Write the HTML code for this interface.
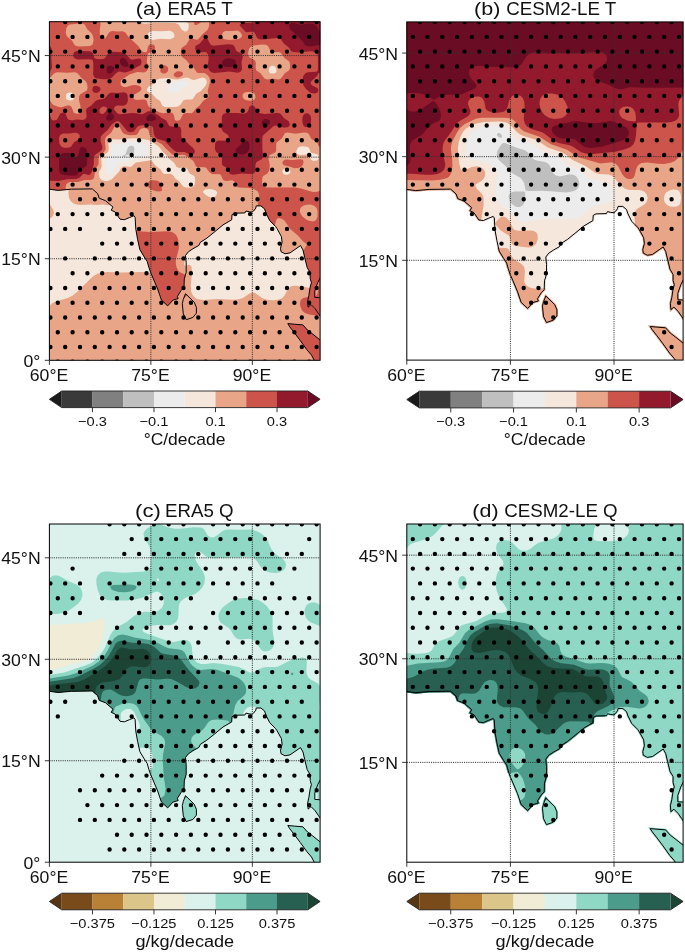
<!DOCTYPE html><html><head><meta charset="utf-8"><style>html,body{margin:0;padding:0;background:#fff;overflow:hidden;}svg{display:block;}text{font-family:"Liberation Sans",sans-serif;fill:#111;filter:grayscale(1);}</style></head><body>
<svg width="685" height="952" viewBox="0 0 685 952">
<rect width="685" height="952" fill="#fff"/>
<defs>
<clipPath id="fa"><rect x="49.40" y="21.70" width="270.70" height="338.60"/></clipPath>
<clipPath id="la"><path d="M42.6 189.2L49.4 189.2L58.1 190.4L71.3 189.2L92.3 188.9L97.6 193.6L99.3 198.3L105.4 200.6L113.0 207.1L111.2 210.2L115.1 212.0L120.0 219.2L124.4 219.7L129.6 217.5L134.0 215.7L135.1 217.3L135.8 229.1L137.6 239.4L139.9 249.7L144.3 257.0L147.2 261.4L148.8 267.2L150.5 272.2L153.4 278.9L157.7 289.1L161.4 300.0L167.7 305.9L173.1 300.0L178.2 298.6L177.4 296.4L181.1 290.5L184.0 287.6L184.3 278.9L186.2 272.3L186.2 262.8L185.5 255.5L188.4 251.8L193.0 248.7L198.9 245.4L200.3 242.4L206.9 238.1L214.2 232.2L223.0 224.9L231.7 219.8L232.0 214.7L234.6 213.2L244.9 212.9L246.0 211.0L249.2 211.8L252.2 212.1L253.6 211.0L255.8 208.1L256.2 205.9L260.9 205.9L264.6 208.9L266.0 213.2L269.7 220.5L275.5 226.4L277.0 228.6L281.4 236.6L282.1 242.4L280.5 248.2L281.0 251.7L285.0 253.8L290.0 252.9L300.5 245.6L303.0 250.0L304.7 257.5L307.2 267.6L310.2 272.7L310.2 278.5L311.4 282.7L310.2 286.9L308.9 295.3L307.6 301.2L308.1 307.1L311.0 304.6L315.2 308.8L318.6 313.8L320.6 316.7L326.8 316.7L326.8 298.7L320.6 298.7L319.4 297.7L314.8 297.4L314.8 291.1L317.7 282.7L320.6 277.2L326.8 277.2L326.8 14.9L42.6 14.9ZM185.5 293.7L183.3 299.3L182.3 303.7L183.3 313.9L186.2 319.7L192.8 317.5L196.4 313.2L196.4 307.3L194.2 302.2L185.5 293.7ZM326.8 340.4L320.6 340.4L312.8 334.1L307.5 330.1L302.9 324.9L294.4 324.2L287.8 323.6L289.8 326.9L294.4 332.8L300.3 340.6L306.9 349.8L311.5 355.1L314.5 360.8L314.5 367.1L326.8 367.1Z"/></clipPath>
<clipPath id="sa"><path clip-rule="evenodd" d="M44.4 16.7H325.1V365.3H44.4ZM42.6 189.2L49.4 189.2L58.1 190.4L71.3 189.2L92.3 188.9L97.6 193.6L99.3 198.3L105.4 200.6L113.0 207.1L111.2 210.2L115.1 212.0L120.0 219.2L124.4 219.7L129.6 217.5L134.0 215.7L135.1 217.3L135.8 229.1L137.6 239.4L139.9 249.7L144.3 257.0L147.2 261.4L148.8 267.2L150.5 272.2L153.4 278.9L157.7 289.1L161.4 300.0L167.7 305.9L173.1 300.0L178.2 298.6L177.4 296.4L181.1 290.5L184.0 287.6L184.3 278.9L186.2 272.3L186.2 262.8L185.5 255.5L188.4 251.8L193.0 248.7L198.9 245.4L200.3 242.4L206.9 238.1L214.2 232.2L223.0 224.9L231.7 219.8L232.0 214.7L234.6 213.2L244.9 212.9L246.0 211.0L249.2 211.8L252.2 212.1L253.6 211.0L255.8 208.1L256.2 205.9L260.9 205.9L264.6 208.9L266.0 213.2L269.7 220.5L275.5 226.4L277.0 228.6L281.4 236.6L282.1 242.4L280.5 248.2L281.0 251.7L285.0 253.8L290.0 252.9L300.5 245.6L303.0 250.0L304.7 257.5L307.2 267.6L310.2 272.7L310.2 278.5L311.4 282.7L310.2 286.9L308.9 295.3L307.6 301.2L308.1 307.1L311.0 304.6L315.2 308.8L318.6 313.8L320.6 316.7L326.8 316.7L326.8 298.7L320.6 298.7L319.4 297.7L314.8 297.4L314.8 291.1L317.7 282.7L320.6 277.2L326.8 277.2L326.8 14.9L42.6 14.9ZM185.5 293.7L183.3 299.3L182.3 303.7L183.3 313.9L186.2 319.7L192.8 317.5L196.4 313.2L196.4 307.3L194.2 302.2L185.5 293.7ZM326.8 340.4L320.6 340.4L312.8 334.1L307.5 330.1L302.9 324.9L294.4 324.2L287.8 323.6L289.8 326.9L294.4 332.8L300.3 340.6L306.9 349.8L311.5 355.1L314.5 360.8L314.5 367.1L326.8 367.1Z"/></clipPath>
<clipPath id="fc"><rect x="49.40" y="524.00" width="270.70" height="338.20"/></clipPath>
<clipPath id="lc"><path d="M42.6 691.3L49.4 691.3L58.1 692.5L71.3 691.3L92.3 691.0L97.6 695.7L99.3 700.4L105.4 702.7L113.0 709.2L111.2 712.3L115.1 714.1L120.0 721.3L124.4 721.8L129.6 719.6L134.0 717.8L135.1 719.4L135.8 731.2L137.6 741.4L139.9 751.7L144.3 759.0L147.2 763.4L148.8 769.2L150.5 774.2L153.4 780.9L157.7 791.1L161.4 802.0L167.7 807.9L173.1 802.0L178.2 800.6L177.4 798.4L181.1 792.5L184.0 789.6L184.3 780.9L186.2 774.3L186.2 764.8L185.5 757.5L188.4 753.8L193.0 750.7L198.9 747.4L200.3 744.4L206.9 740.1L214.2 734.3L223.0 727.0L231.7 721.9L232.0 716.8L234.6 715.3L244.9 715.0L246.0 713.1L249.2 713.9L252.2 714.2L253.6 713.1L255.8 710.2L256.2 708.0L260.9 708.0L264.6 711.0L266.0 715.3L269.7 722.6L275.5 728.5L277.0 730.7L281.4 738.6L282.1 744.4L280.5 750.2L281.0 753.7L285.0 755.8L290.0 754.9L300.5 747.6L303.0 752.0L304.7 759.5L307.2 769.6L310.2 774.7L310.2 780.5L311.4 784.7L310.2 788.9L308.9 797.3L307.6 803.2L308.1 809.1L311.0 806.6L315.2 810.8L318.6 815.8L320.6 818.7L326.8 818.7L326.8 800.7L320.6 800.7L319.4 799.7L314.8 799.4L314.8 793.1L317.7 784.7L320.6 779.2L326.8 779.2L326.8 517.2L42.6 517.2ZM185.5 795.7L183.3 801.3L182.3 805.7L183.3 815.9L186.2 821.6L192.8 819.5L196.4 815.2L196.4 809.3L194.2 804.2L185.5 795.7ZM326.8 842.3L320.6 842.3L312.8 836.0L307.5 832.0L302.9 826.8L294.4 826.1L287.8 825.5L289.8 828.8L294.4 834.7L300.3 842.5L306.9 851.7L311.5 857.0L314.5 862.7L314.5 869.0L326.8 869.0Z"/></clipPath>
<clipPath id="sc"><path clip-rule="evenodd" d="M44.4 519.0H325.1V867.2H44.4ZM42.6 691.3L49.4 691.3L58.1 692.5L71.3 691.3L92.3 691.0L97.6 695.7L99.3 700.4L105.4 702.7L113.0 709.2L111.2 712.3L115.1 714.1L120.0 721.3L124.4 721.8L129.6 719.6L134.0 717.8L135.1 719.4L135.8 731.2L137.6 741.4L139.9 751.7L144.3 759.0L147.2 763.4L148.8 769.2L150.5 774.2L153.4 780.9L157.7 791.1L161.4 802.0L167.7 807.9L173.1 802.0L178.2 800.6L177.4 798.4L181.1 792.5L184.0 789.6L184.3 780.9L186.2 774.3L186.2 764.8L185.5 757.5L188.4 753.8L193.0 750.7L198.9 747.4L200.3 744.4L206.9 740.1L214.2 734.3L223.0 727.0L231.7 721.9L232.0 716.8L234.6 715.3L244.9 715.0L246.0 713.1L249.2 713.9L252.2 714.2L253.6 713.1L255.8 710.2L256.2 708.0L260.9 708.0L264.6 711.0L266.0 715.3L269.7 722.6L275.5 728.5L277.0 730.7L281.4 738.6L282.1 744.4L280.5 750.2L281.0 753.7L285.0 755.8L290.0 754.9L300.5 747.6L303.0 752.0L304.7 759.5L307.2 769.6L310.2 774.7L310.2 780.5L311.4 784.7L310.2 788.9L308.9 797.3L307.6 803.2L308.1 809.1L311.0 806.6L315.2 810.8L318.6 815.8L320.6 818.7L326.8 818.7L326.8 800.7L320.6 800.7L319.4 799.7L314.8 799.4L314.8 793.1L317.7 784.7L320.6 779.2L326.8 779.2L326.8 517.2L42.6 517.2ZM185.5 795.7L183.3 801.3L182.3 805.7L183.3 815.9L186.2 821.6L192.8 819.5L196.4 815.2L196.4 809.3L194.2 804.2L185.5 795.7ZM326.8 842.3L320.6 842.3L312.8 836.0L307.5 832.0L302.9 826.8L294.4 826.1L287.8 825.5L289.8 828.8L294.4 834.7L300.3 842.5L306.9 851.7L311.5 857.0L314.5 862.7L314.5 869.0L326.8 869.0Z"/></clipPath>
<clipPath id="fb"><rect x="406.80" y="21.90" width="276.30" height="338.20"/></clipPath>
<clipPath id="lb"><path d="M691.1 371.9L676.4 371.9L676.4 364.7L673.5 359.2L668.9 353.9L662.1 344.5L656.1 336.5L651.4 330.5L648.1 325.2L657.1 326.0L666.2 326.7L671.1 332.3L676.4 336.3L684.1 342.5L691.1 342.5ZM558.0 309.6L558.0 316.3L553.9 321.2L545.9 323.8L542.4 316.9L541.4 306.1L542.5 301.4L545.3 294.0L555.6 304.0ZM691.1 10.5L691.1 280.2L684.4 280.2L681.8 285.2L678.9 293.5L678.9 298.7L682.9 299.0L684.1 300.0L691.1 300.0L691.1 320.5L683.1 320.5L680.8 317.1L677.3 312.1L673.9 308.6L670.0 311.9L669.3 303.5L670.7 297.4L672.0 288.8L673.2 284.7L672.0 280.6L672.0 274.8L669.0 269.8L666.4 259.3L664.7 251.8L662.8 248.5L652.9 255.4L647.2 256.4L642.3 253.8L641.6 249.5L643.3 243.6L642.6 238.1L638.3 230.1L636.8 228.0L630.8 222.0L626.9 214.3L625.6 210.1L622.4 207.5L618.9 207.5L618.6 209.1L616.1 212.4L614.2 213.9L610.6 213.5L608.1 212.9L607.1 214.6L596.2 215.0L594.3 216.0L594.0 221.2L584.7 226.7L575.8 234.1L568.3 240.2L561.7 244.4L560.3 247.5L554.0 251.0L549.5 254.0L546.9 257.3L547.6 264.4L547.6 274.3L545.6 281.0L545.3 290.2L542.1 293.4L538.7 298.9L539.8 301.7L533.7 303.4L527.7 310.0L520.2 303.0L516.3 291.7L512.0 281.3L509.0 274.4L507.2 269.3L505.6 263.5L502.8 259.1L498.2 251.5L495.8 240.8L493.9 230.2L493.2 218.4L492.8 217.8L489.1 219.3L483.5 221.6L478.3 221.0L473.1 213.5L468.3 211.3L470.3 207.9L463.4 202.0L456.9 199.5L455.1 194.5L450.2 190.2L429.2 190.5L415.7 191.7L406.7 190.5L398.8 190.5L398.8 10.5Z"/></clipPath>
<clipPath id="sb"><path clip-rule="evenodd" d="M401.8 16.9H688.1V365.1H401.8ZM399.9 189.4L406.8 189.4L415.7 190.6L429.2 189.4L450.6 189.1L456.0 193.9L457.8 198.7L464.0 201.0L471.7 207.6L469.9 210.8L473.9 212.6L478.9 220.0L483.4 220.5L488.7 218.2L493.2 216.4L494.3 218.0L495.0 230.1L496.9 240.6L499.2 251.1L503.7 258.5L506.7 263.0L508.3 268.9L510.0 274.0L513.0 280.9L517.4 291.3L521.2 302.4L527.6 308.4L533.1 302.4L538.3 301.0L537.5 298.7L541.3 292.7L544.2 289.7L544.5 280.9L546.5 274.1L546.5 264.4L545.8 257.0L548.7 253.2L553.4 250.1L559.4 246.7L560.9 243.6L567.6 239.3L575.1 233.2L584.1 225.8L592.9 220.6L593.2 215.4L595.9 213.9L606.4 213.6L607.5 211.6L610.8 212.4L613.9 212.7L615.3 211.6L617.5 208.7L618.0 206.4L622.8 206.4L626.5 209.5L628.0 213.9L631.7 221.3L637.7 227.3L639.2 229.6L643.7 237.7L644.4 243.6L642.8 249.6L643.3 253.1L647.4 255.3L652.5 254.4L663.2 246.9L665.7 251.4L667.5 259.0L670.0 269.3L673.1 274.5L673.1 280.5L674.3 284.7L673.1 289.0L671.8 297.6L670.4 303.6L670.9 309.6L673.9 307.1L678.2 311.4L681.7 316.5L683.7 319.4L690.0 319.4L690.0 301.1L683.7 301.1L682.5 300.0L677.8 299.7L677.8 293.3L680.8 284.7L683.7 279.1L690.0 279.1L690.0 11.6L399.9 11.6ZM545.8 296.0L543.5 301.7L542.5 306.2L543.5 316.6L546.5 322.5L553.2 320.2L556.9 315.9L556.9 309.8L554.7 304.6L545.8 296.0ZM690.0 343.6L683.7 343.6L675.7 337.2L670.3 333.1L665.6 327.8L657.0 327.1L650.2 326.5L652.3 329.8L657.0 335.8L663.0 343.8L669.7 353.2L674.4 358.6L677.5 364.4L677.5 370.8L690.0 370.8Z"/></clipPath>
<clipPath id="fd"><rect x="406.80" y="524.00" width="276.30" height="338.20"/></clipPath>
<clipPath id="ld"><path d="M691.1 874.0L676.4 874.0L676.4 866.8L673.5 861.3L668.9 856.0L662.1 846.6L656.1 838.6L651.4 832.6L648.1 827.3L657.1 828.1L666.2 828.8L671.1 834.4L676.4 838.4L684.1 844.6L691.1 844.6ZM558.0 811.7L558.0 818.4L553.9 823.3L545.9 825.9L542.4 819.0L541.4 808.2L542.5 803.5L545.3 796.1L555.6 806.1ZM691.1 512.6L691.1 782.3L684.4 782.3L681.8 787.3L678.9 795.6L678.9 800.8L682.9 801.1L684.1 802.1L691.1 802.1L691.1 822.6L683.1 822.6L680.8 819.2L677.3 814.2L673.9 810.7L670.0 814.0L669.3 805.6L670.7 799.5L672.0 790.9L673.2 786.8L672.0 782.7L672.0 776.9L669.0 771.9L666.4 761.4L664.7 753.9L662.8 750.6L652.9 757.5L647.2 758.5L642.3 755.9L641.6 751.6L643.3 745.7L642.6 740.2L638.3 732.2L636.8 730.1L630.8 724.1L626.9 716.4L625.6 712.2L622.4 709.6L618.9 709.6L618.6 711.2L616.1 714.5L614.2 716.0L610.6 715.6L608.1 715.0L607.1 716.7L596.2 717.1L594.3 718.1L594.0 723.3L584.7 728.8L575.8 736.2L568.3 742.3L561.7 746.5L560.3 749.6L554.0 753.1L549.5 756.1L546.9 759.4L547.6 766.5L547.6 776.4L545.6 783.1L545.3 792.3L542.1 795.5L538.7 801.0L539.8 803.8L533.7 805.5L527.7 812.1L520.2 805.1L516.3 793.8L512.0 783.4L509.0 776.5L507.2 771.4L505.6 765.6L502.8 761.2L498.2 753.6L495.8 742.9L493.9 732.3L493.2 720.5L492.8 719.9L489.1 721.4L483.5 723.7L478.3 723.1L473.1 715.6L468.3 713.4L470.3 710.0L463.4 704.1L456.9 701.6L455.1 696.6L450.2 692.3L429.2 692.6L415.7 693.8L406.7 692.6L398.8 692.6L398.8 512.6Z"/></clipPath>
<clipPath id="sd"><path clip-rule="evenodd" d="M401.8 519.0H688.1V867.2H401.8ZM399.9 691.5L406.8 691.5L415.7 692.7L429.2 691.5L450.6 691.2L456.0 696.0L457.8 700.8L464.0 703.1L471.7 709.7L469.9 712.9L473.9 714.7L478.9 722.1L483.4 722.6L488.7 720.3L493.2 718.5L494.3 720.1L495.0 732.2L496.9 742.7L499.2 753.2L503.7 760.6L506.7 765.1L508.3 771.0L510.0 776.1L513.0 783.0L517.4 793.4L521.2 804.5L527.6 810.5L533.1 804.5L538.3 803.1L537.5 800.8L541.3 794.8L544.2 791.8L544.5 783.0L546.5 776.2L546.5 766.5L545.8 759.1L548.7 755.3L553.4 752.2L559.4 748.8L560.9 745.7L567.6 741.4L575.1 735.3L584.1 727.9L592.9 722.7L593.2 717.5L595.9 716.0L606.4 715.7L607.5 713.7L610.8 714.5L613.9 714.8L615.3 713.7L617.5 710.8L618.0 708.5L622.8 708.5L626.5 711.6L628.0 716.0L631.7 723.4L637.7 729.4L639.2 731.7L643.7 739.8L644.4 745.7L642.8 751.7L643.3 755.2L647.4 757.4L652.5 756.5L663.2 749.0L665.7 753.5L667.5 761.1L670.0 771.4L673.1 776.6L673.1 782.6L674.3 786.8L673.1 791.1L671.8 799.7L670.4 805.7L670.9 811.7L673.9 809.2L678.2 813.5L681.7 818.6L683.7 821.5L690.0 821.5L690.0 803.2L683.7 803.2L682.5 802.1L677.8 801.8L677.8 795.4L680.8 786.8L683.7 781.2L690.0 781.2L690.0 513.7L399.9 513.7ZM545.8 798.1L543.5 803.8L542.5 808.3L543.5 818.7L546.5 824.6L553.2 822.3L556.9 818.0L556.9 811.9L554.7 806.7L545.8 798.1ZM690.0 845.7L683.7 845.7L675.7 839.3L670.3 835.2L665.6 829.9L657.0 829.2L650.2 828.6L652.3 831.9L657.0 837.9L663.0 845.9L669.7 855.3L674.4 860.7L677.5 866.5L677.5 872.9L690.0 872.9Z"/></clipPath>
</defs>
<g clip-path="url(#fa)">
<g clip-path="url(#sa)">
<rect x="47.4" y="19.7" width="274.7" height="342.6" fill="#f6e7dc"/>
<path fill="#e9a587" d="M44.0 367.1L326.8 367.1L326.8 267.4L320.0 267.4L317.3 269.6L316.2 272.3L315.9 282.0L314.6 285.8L313.2 287.4L310.5 288.2L305.1 287.1L295.6 285.8L291.6 286.1L288.3 288.5L284.7 295.3L282.3 298.0L279.4 299.4L274.0 300.2L268.6 299.9L264.5 299.0L261.8 297.8L255.1 293.1L252.4 292.6L249.6 293.5L242.9 298.0L237.5 299.6L232.1 299.8L217.2 299.1L203.6 299.9L196.9 298.9L193.8 296.6L192.1 293.9L191.1 291.2L190.8 285.8L192.0 270.9L191.5 266.8L190.7 265.5L188.8 264.7L182.0 266.4L179.3 266.4L177.5 265.5L173.9 261.9L171.2 261.0L167.1 261.3L164.4 262.1L161.9 264.1L159.0 268.0L149.5 272.8L141.4 272.0L122.5 272.4L107.6 272.0L102.2 272.5L98.1 273.5L95.0 275.0L91.4 277.7L76.5 292.6L72.4 295.7L67.0 298.3L54.8 301.8L51.9 303.4L49.4 306.1L42.6 306.1L42.6 367.1ZM44.0 219.1L49.4 219.1L52.4 216.7L53.7 214.0L53.9 212.7L53.3 210.0L49.4 203.6L42.6 203.6L42.6 219.1ZM76.5 204.5L80.5 205.0L90.0 204.5L96.8 205.0L103.5 204.5L107.6 205.2L108.9 205.2L110.3 204.5L110.6 203.2L109.8 199.1L110.3 197.8L111.6 197.2L115.7 198.2L117.0 197.8L117.5 196.4L116.5 192.4L117.0 191.0L118.4 190.4L122.5 191.4L123.8 191.0L124.2 189.6L123.3 185.6L123.8 184.2L125.2 183.7L129.2 184.6L130.6 184.2L130.9 182.9L130.2 178.8L131.4 176.1L138.5 169.3L141.8 162.6L147.1 158.5L147.8 155.8L147.7 150.4L149.5 148.0L152.5 146.3L153.9 145.0L154.5 143.6L154.3 138.2L154.9 136.0L159.1 132.8L163.1 127.9L167.5 124.6L168.2 121.9L168.1 116.5L168.8 115.2L172.6 112.4L176.6 107.6L180.6 104.6L181.6 103.0L181.9 100.3L181.2 85.4L181.6 82.6L183.3 80.4L187.4 77.6L188.6 74.5L188.4 56.9L188.0 51.5L188.3 48.8L190.1 46.5L194.2 43.7L195.4 40.7L195.1 14.9L68.5 14.9L68.5 193.7L69.0 197.8L70.2 200.5L73.1 203.2Z"/>
<path fill="#cd544a" d="M309.2 314.5L315.9 315.4L326.8 315.5L326.8 270.4L320.0 270.4L319.0 272.3L319.0 281.7L318.5 288.5L317.3 293.9L315.9 295.9L313.2 297.2L306.5 297.3L303.8 297.7L301.2 299.4L300.5 300.7L300.0 303.4L300.3 306.1L301.9 310.2L304.9 312.9Z"/>
</g>
<g clip-path="url(#la)">
<rect x="47.4" y="19.7" width="274.7" height="342.6" fill="#bfbfbf"/>
<path fill="#ececec" d="M44.0 367.1L326.8 367.1L326.8 14.9L42.6 14.9L42.6 367.1ZM123.8 157.1L122.5 155.8L125.2 154.7L127.9 147.6L129.2 146.3L130.6 145.8L131.9 145.7L133.7 146.3L134.4 149.0L133.7 153.1L131.9 154.2L126.5 155.0Z"/>
<path fill="#f6e7dc" d="M44.0 367.1L326.8 367.1L326.8 14.9L42.6 14.9L42.6 367.1ZM107.5 174.7L106.6 173.4L106.3 172.0L105.1 159.8L106.2 158.2L110.3 157.1L111.9 155.8L112.5 153.1L112.4 146.3L113.0 144.7L115.7 143.6L122.5 143.9L129.2 142.0L134.6 141.3L140.1 142.2L146.9 145.0L147.7 146.3L147.8 147.7L147.4 153.1L146.2 155.8L144.1 157.1L140.6 158.5L131.9 159.8L127.9 161.7L118.4 162.7L117.0 163.9L115.4 169.3L113.6 172.0L110.3 174.6L108.9 175.0ZM169.9 92.1L167.9 89.4L167.8 86.7L169.2 84.0L171.2 82.6L184.7 80.4L187.1 81.3L188.1 82.6L188.1 84.0L187.0 85.4L182.8 88.1L177.9 92.1L173.9 93.1L171.2 92.8Z"/>
<path fill="#e9a587" d="M44.0 367.1L326.8 367.1L326.8 14.9L184.7 14.9L184.7 21.7L187.4 22.4L188.2 23.1L188.8 25.8L188.2 29.8L186.8 31.2L184.7 31.5L181.8 29.8L178.6 24.4L175.4 23.1L153.6 22.7L145.5 23.8L142.8 23.6L140.7 21.7L140.7 14.9L42.6 14.9L42.6 367.1ZM184.7 265.5L184.2 264.1L184.6 261.4L186.1 260.0L187.4 259.8L191.5 260.5L196.9 260.0L204.3 264.1L205.0 265.5L203.6 266.4L202.3 266.5L195.5 265.0L192.8 265.1L187.4 266.4L186.1 266.3ZM211.8 197.8L209.1 197.1L205.8 195.1L203.2 192.4L203.3 191.0L205.2 189.6L209.1 189.1L213.1 189.6L216.2 191.0L217.1 192.4L216.5 195.1L214.5 197.0ZM184.2 186.9L182.4 185.6L179.3 181.6L175.5 178.8L172.5 174.7L169.8 173.8L165.8 174.1L163.1 173.5L160.3 169.3L155.2 165.3L152.2 161.3L149.5 160.5L136.0 162.5L134.0 163.9L131.9 166.2L130.6 166.9L125.2 166.3L122.9 166.6L121.2 168.0L118.8 172.0L111.6 179.4L107.6 180.9L104.9 180.9L102.2 180.2L100.8 179.2L99.6 177.5L98.6 173.4L99.4 170.7L100.8 168.9L101.7 166.6L101.2 158.5L101.6 157.1L102.8 155.8L106.9 153.1L108.0 151.7L108.7 149.0L108.4 143.6L109.1 140.9L110.3 139.7L111.6 139.2L119.8 139.5L133.3 138.3L138.7 138.6L148.2 140.1L150.9 141.1L159.0 146.8L162.7 151.7L165.8 154.5L168.8 158.5L173.9 162.4L176.6 167.0L179.3 167.9L184.7 167.5L186.1 167.9L187.4 169.2L188.8 172.0L189.9 173.4L194.2 176.1L194.9 177.5L195.2 180.2L195.0 182.9L194.1 185.6L192.7 186.9L190.1 187.7L186.1 187.6ZM285.2 174.7L283.5 173.9L282.4 172.0L282.4 170.7L283.3 169.3L286.2 168.7L288.9 169.5L290.1 170.7L290.5 172.0L290.0 173.4L287.5 174.8ZM311.0 159.8L309.2 155.1L308.1 154.4L299.7 154.9L297.0 153.8L296.5 153.1L296.4 150.4L298.1 147.7L299.7 146.8L302.4 146.3L305.1 146.4L307.8 147.1L309.2 148.3L310.5 152.1L311.7 153.1L317.3 154.2L318.6 155.7L318.6 158.5L317.3 160.5L313.2 161.1ZM166.2 107.0L164.4 106.8L162.3 105.7L160.4 101.6L159.1 100.3L156.3 98.5L152.2 94.0L148.3 92.1L147.1 90.8L146.9 89.4L148.2 87.1L153.1 84.0L156.4 79.9L159.0 78.8L168.5 78.1L173.9 79.3L177.9 79.5L186.1 77.4L188.8 78.0L191.5 79.4L194.2 80.1L202.3 77.6L205.0 78.2L206.3 79.7L206.9 82.6L205.7 85.4L200.9 91.0L196.9 93.3L195.5 94.7L192.8 99.0L191.5 99.5L186.1 99.5L183.4 100.3L180.6 104.4L177.9 106.4L173.9 107.0ZM68.1 100.3L66.4 98.9L65.9 97.5L66.2 94.8L67.0 93.6L68.3 92.7L71.0 92.5L72.4 93.1L73.8 94.8L74.1 96.2L73.7 98.9L72.4 100.3L71.0 100.6ZM270.2 73.2L269.0 71.8L268.7 70.5L269.3 67.7L271.3 65.7L274.0 65.8L275.9 67.7L276.6 70.5L276.4 71.8L275.4 73.1L274.0 73.5ZM149.6 39.3L148.2 38.0L147.6 36.6L147.8 33.9L149.5 32.0L152.2 31.1L161.7 31.3L169.8 30.8L171.2 31.2L173.3 32.5L174.5 35.2L174.3 36.6L173.3 38.0L169.8 39.3L160.3 38.8L152.2 39.9Z"/>
<path fill="#cd544a" d="M44.0 367.1L142.2 367.1L142.2 360.3L141.2 358.9L140.9 357.6L141.4 354.9L142.8 352.9L146.8 350.0L150.2 345.4L154.9 342.2L155.7 340.0L155.4 335.9L155.7 333.2L156.8 331.9L160.3 329.5L163.1 325.7L167.3 322.4L170.5 318.3L174.9 315.6L176.1 312.9L175.7 307.5L176.6 305.4L180.6 302.4L183.3 298.7L187.3 295.3L189.6 292.6L194.4 289.9L195.6 288.5L196.0 287.2L195.7 284.5L194.9 283.1L190.1 280.1L186.1 275.0L180.0 272.3L178.6 270.9L176.9 268.2L175.8 264.1L175.9 260.1L178.7 249.2L179.1 245.2L177.9 238.4L176.6 235.7L175.2 234.0L172.5 232.2L168.5 231.2L150.9 232.0L141.4 231.4L134.6 229.7L131.9 229.8L130.6 230.5L129.7 231.6L127.9 235.2L124.3 237.0L123.0 238.4L122.2 242.5L121.3 243.8L118.4 244.1L115.7 245.4L107.6 253.8L104.9 255.2L98.1 255.2L95.6 256.0L92.5 260.1L87.6 264.1L84.6 268.3L83.2 269.0L77.8 268.9L75.1 269.6L72.4 273.8L71.0 275.2L69.7 275.7L62.9 275.6L61.6 276.4L57.5 281.4L52.3 284.5L49.4 289.7L42.6 289.7L42.6 367.1ZM132.9 237.0L134.6 236.6L136.0 237.0L134.6 238.2ZM234.8 367.1L326.8 367.1L326.8 190.7L320.0 190.7L317.3 191.7L313.2 191.9L309.2 191.1L301.1 188.4L295.6 187.5L265.9 187.4L264.4 186.9L263.0 185.6L262.2 182.9L262.1 180.2L262.5 177.5L263.2 176.1L267.3 173.4L269.2 170.7L269.8 165.3L268.5 158.5L269.2 155.8L270.7 154.4L274.3 153.1L275.7 151.7L276.2 150.4L276.2 143.6L276.9 142.2L282.0 138.2L284.8 133.3L287.5 132.5L295.6 133.7L303.8 132.6L306.7 132.8L308.8 134.1L310.9 138.2L311.9 139.2L317.0 142.2L318.7 146.3L320.0 147.0L326.8 147.0L326.8 14.9L209.0 14.9L209.1 24.4L208.8 27.1L207.6 29.8L202.3 34.4L198.2 39.3L196.9 39.7L191.5 38.6L189.6 39.3L186.2 44.7L182.0 47.5L181.2 48.8L180.7 51.5L180.9 54.2L182.1 56.9L186.1 59.9L189.2 63.7L192.8 66.6L196.9 72.5L198.2 73.0L203.6 72.9L205.0 73.3L207.7 75.2L209.3 77.2L210.0 79.9L209.9 82.6L207.7 90.8L208.5 96.2L207.7 97.9L203.6 100.5L199.6 105.5L195.8 108.4L192.8 112.6L191.5 113.3L186.1 113.1L183.6 113.8L182.4 115.2L180.5 119.2L179.3 120.2L176.6 120.7L175.2 120.0L174.7 119.2L173.9 115.1L172.5 112.9L169.8 112.2L163.1 113.2L159.0 112.3L149.4 107.0L148.1 105.7L146.8 101.1L145.5 99.7L142.8 99.5L136.0 100.0L134.0 98.9L133.4 97.5L133.4 96.2L134.0 94.8L140.1 91.2L141.3 89.4L141.3 88.1L140.1 86.3L137.3 85.3L134.6 85.1L131.9 85.3L126.5 86.9L123.8 87.0L122.5 86.6L121.1 85.5L120.5 84.0L120.7 81.3L121.5 79.9L129.4 74.5L137.3 71.9L144.1 72.5L146.8 71.1L147.8 69.1L148.0 67.7L146.8 61.0L147.7 54.2L148.2 53.3L153.2 51.5L154.4 50.1L155.0 47.4L154.8 46.1L153.7 44.7L150.9 44.2L149.4 44.7L148.2 46.1L146.8 51.7L145.5 52.2L142.8 51.8L140.9 50.1L138.3 46.1L128.2 36.6L125.4 32.5L122.5 31.3L117.1 31.6L113.0 31.1L110.3 31.6L108.9 32.7L105.6 38.0L103.5 38.6L102.2 38.1L100.7 36.6L99.8 33.9L99.8 29.8L100.5 24.4L100.1 14.9L42.6 14.9L42.6 78.6L49.4 78.6L53.5 73.9L54.8 73.0L57.5 72.2L67.0 72.7L75.1 72.3L77.8 73.5L81.9 78.5L85.8 81.3L87.1 84.0L87.6 88.1L86.6 90.8L80.5 94.0L79.1 96.2L79.0 100.3L80.4 105.7L80.8 109.7L80.3 112.4L79.2 113.4L76.5 113.7L73.8 112.7L71.6 107.0L69.7 105.5L67.0 105.4L61.6 107.2L58.9 107.0L53.5 104.9L52.1 103.7L49.4 99.5L42.6 99.5L42.6 281.9L49.6 281.7L50.4 280.4L51.4 272.3L52.5 270.9L57.4 268.2L59.2 265.5L59.7 262.8L58.8 256.0L59.2 251.9L60.2 250.4L65.6 246.5L66.3 245.2L66.6 242.5L66.2 235.7L66.5 193.7L65.6 186.9L66.3 184.2L67.7 182.9L69.7 182.1L77.8 182.0L84.6 180.1L91.3 180.0L93.3 178.8L94.1 177.5L95.4 169.8L98.6 163.9L98.5 157.1L100.5 154.4L104.2 151.7L105.7 149.0L104.9 140.9L105.4 138.2L106.3 136.8L111.2 132.8L114.3 127.3L115.7 126.1L117.1 125.7L118.4 126.2L119.7 127.3L122.8 132.8L124.3 134.1L129.2 135.3L136.0 134.9L137.5 134.1L139.7 130.1L141.2 128.7L144.1 128.0L146.8 128.6L148.4 130.1L149.8 135.5L150.9 136.8L155.7 140.9L161.7 144.0L165.8 148.6L172.5 154.7L175.2 155.3L182.0 154.8L184.7 155.1L192.8 160.6L194.3 162.6L195.5 165.7L196.9 167.0L205.0 167.3L206.3 168.0L209.2 172.0L211.8 174.0L219.9 174.3L221.2 175.6L222.6 179.1L223.9 180.6L226.6 181.0L232.1 180.3L234.3 181.5L236.1 185.6L237.5 186.9L238.8 187.5L249.6 187.9L253.7 189.0L257.4 191.0L258.4 192.4L259.1 195.1L259.1 197.8L257.4 205.9L257.9 208.6L259.1 211.3L258.9 216.7L260.2 223.5L259.1 224.9L256.4 224.9L252.4 222.8L252.5 230.3L251.9 233.0L249.9 237.0L250.7 238.4L252.4 238.4L255.3 235.7L260.5 233.1L263.2 227.6L265.9 226.9L271.3 227.4L274.0 226.3L274.9 224.9L276.5 219.4L278.1 218.3L279.4 218.2L282.1 218.9L284.6 220.8L290.2 229.1L298.1 235.7L302.4 240.7L306.1 243.8L306.6 245.2L301.7 253.3L296.8 257.4L296.2 260.1L296.3 265.5L295.7 266.8L294.3 268.1L290.1 270.9L289.4 273.6L289.5 279.0L289.1 280.4L287.8 281.7L286.2 282.4L279.4 282.4L278.1 283.0L275.2 287.2L272.6 289.2L268.6 289.5L261.8 288.7L259.1 289.2L257.8 289.9L253.7 295.2L249.6 297.3L246.6 300.7L242.6 303.4L241.4 304.8L240.7 308.8L240.8 331.9L241.3 338.6L240.2 341.1L235.6 344.0L234.2 346.8L233.9 350.8L234.5 357.6L234.2 367.1ZM309.1 220.8L306.2 219.4L302.7 216.7L300.7 214.0L299.8 211.3L300.3 208.6L301.2 207.3L303.8 205.5L306.5 204.7L310.5 204.6L314.6 205.9L316.9 208.6L317.6 211.3L317.5 216.7L315.9 220.2L313.2 221.4ZM246.5 100.3L244.2 99.2L242.7 97.5L242.5 94.8L244.2 92.8L246.9 92.0L251.0 92.1L253.7 93.1L255.1 94.6L255.5 97.5L254.9 98.9L253.7 100.1L251.0 100.8ZM264.4 78.6L260.5 73.2L256.3 70.5L255.6 67.7L255.9 63.7L255.4 61.0L253.7 59.4L249.6 57.5L248.4 55.6L248.1 52.9L249.1 48.8L251.0 46.4L252.4 45.7L261.8 44.5L265.9 44.8L267.9 46.1L270.0 50.1L271.3 51.5L274.0 52.3L279.4 52.3L280.9 52.9L284.7 58.3L288.7 61.0L289.6 62.3L290.2 66.4L289.7 69.1L288.9 70.5L284.8 73.2L280.8 78.7L278.1 79.4L272.6 78.5L267.2 79.4ZM76.1 46.1L74.4 44.7L72.2 40.7L67.1 36.6L66.3 35.2L65.8 32.5L66.2 28.5L67.8 25.8L69.7 24.6L79.2 23.5L83.2 23.8L84.6 24.6L87.3 29.2L91.3 33.0L92.7 35.2L93.6 39.3L93.0 43.4L92.2 44.7L90.0 46.1L79.2 46.5ZM224.3 39.3L222.5 38.0L221.9 35.2L222.8 32.5L225.3 31.1L232.1 31.1L237.5 30.4L240.2 31.9L242.1 35.2L241.5 37.3L238.8 38.9L229.3 39.9ZM252.4 218.1L253.7 217.9L254.7 215.4L254.7 212.7L253.7 211.3L252.4 211.3L251.4 212.7L251.2 214.0ZM156.3 191.2L159.0 191.5L161.7 190.9L162.1 189.6L161.9 188.3L160.3 182.9L159.0 181.5L156.3 180.5L152.2 180.2L149.5 181.0L148.2 182.5L147.6 184.2L148.3 186.9L150.9 189.4ZM294.3 168.2L298.4 168.0L301.4 166.6L302.6 165.3L303.5 162.6L303.5 161.2L302.8 159.8L299.7 159.3L292.9 160.0L286.2 159.5L284.7 159.8L282.9 161.2L282.4 162.6L282.6 163.9L284.0 165.3L290.2 166.7ZM176.6 77.4L179.3 77.2L181.8 75.9L182.9 74.5L183.0 73.2L182.0 71.9L180.6 71.4L177.9 71.3L176.3 71.8L174.3 73.2L173.7 74.5L174.0 75.9ZM163.1 73.5L165.8 73.2L167.5 71.8L168.2 70.5L168.0 67.7L167.1 66.4L165.8 65.6L163.1 65.6L161.7 66.3L160.8 67.7L160.3 70.5L160.5 71.8L161.7 73.1ZM194.2 24.5L195.5 25.1L196.9 24.9L201.6 21.7L201.6 14.9L194.0 14.9Z"/>
<path fill="#931a2c" d="M44.0 180.8L58.9 181.0L67.0 179.2L76.5 179.1L79.7 177.5L83.2 174.1L84.6 173.9L88.6 175.0L90.0 174.7L91.7 172.0L93.9 163.9L93.8 158.5L94.4 155.8L95.6 154.4L101.3 150.4L102.2 149.0L102.3 146.3L100.5 140.9L100.8 136.8L102.2 134.7L107.6 130.1L111.7 124.6L114.3 122.4L117.1 121.1L118.4 121.2L119.8 122.1L127.6 131.4L130.6 132.3L133.8 131.4L137.3 126.8L140.1 125.5L145.5 125.0L151.4 126.0L153.0 127.3L153.8 134.1L155.1 136.8L157.6 138.9L164.8 140.9L169.7 146.3L174.1 150.4L176.6 151.9L184.7 152.1L190.1 154.4L192.8 154.8L194.6 153.1L194.8 150.4L193.0 147.7L190.1 145.6L186.1 141.4L183.0 139.5L181.8 138.2L181.2 135.5L181.3 130.1L180.3 127.3L177.9 126.0L172.5 126.8L169.8 126.2L168.5 124.8L166.3 120.6L161.7 117.9L158.4 115.2L153.6 112.2L150.9 111.2L148.2 111.3L144.1 113.6L141.4 114.3L136.0 113.2L131.9 113.0L119.8 114.3L117.1 113.2L114.3 109.7L114.0 108.4L114.5 107.0L117.1 105.6L123.8 105.8L126.3 104.3L127.2 103.0L128.0 100.3L127.5 94.8L126.5 93.3L123.8 92.2L117.1 93.0L111.6 92.5L108.9 93.6L104.9 98.3L102.2 99.3L98.1 99.8L95.4 101.0L91.3 105.4L86.6 108.4L86.0 111.1L86.7 116.5L85.9 118.4L83.2 119.9L76.5 119.5L72.4 120.2L69.7 120.1L68.3 119.4L67.2 117.9L65.6 113.4L64.3 112.6L62.9 112.5L60.1 113.8L57.3 119.2L56.2 120.0L53.5 120.5L52.1 120.1L51.4 119.2L49.4 113.3L42.6 113.3L42.6 180.8ZM63.8 147.7L61.0 146.3L59.4 143.6L58.9 138.2L60.2 134.9L62.9 133.6L69.7 133.4L73.8 132.7L76.5 132.8L78.9 134.1L79.7 135.5L79.6 138.2L78.5 139.5L74.0 142.2L71.0 146.8L68.3 147.7ZM100.8 113.8L99.6 112.4L99.3 111.1L100.1 108.4L102.2 106.8L103.5 106.4L106.1 107.0L107.0 108.4L106.2 111.1L103.5 113.7L102.2 114.1ZM230.7 174.3L233.4 174.7L241.5 173.6L251.0 174.1L253.8 173.4L255.1 172.2L255.6 170.7L255.4 165.3L256.2 162.6L257.8 161.2L261.8 159.2L263.1 157.1L262.4 149.0L262.3 139.5L262.5 136.8L263.2 135.2L274.0 125.7L276.7 125.5L283.5 127.6L287.8 127.3L289.4 126.0L289.8 124.6L288.9 121.5L283.9 117.9L280.8 114.1L279.4 113.3L276.7 112.9L264.5 113.9L259.1 113.1L256.9 111.1L254.9 107.0L253.7 106.0L252.4 105.6L251.0 105.7L249.6 106.5L248.0 111.1L246.9 112.5L245.6 113.3L242.9 113.6L237.5 113.0L226.6 112.9L223.7 113.8L222.4 115.2L221.9 116.5L221.5 128.7L222.9 131.4L228.0 135.0L228.7 136.8L228.4 138.2L227.6 139.5L225.3 140.7L218.5 140.4L217.0 140.9L215.8 142.1L215.1 143.6L214.9 149.0L216.0 151.7L221.3 155.8L222.0 158.5L221.9 163.9L222.5 165.3L226.7 168.0L228.0 169.3L229.6 173.4ZM303.8 126.3L305.1 127.0L307.8 126.9L309.3 126.0L310.8 123.3L311.2 119.2L310.8 116.5L309.2 114.0L307.8 113.4L306.5 113.2L304.7 113.8L303.3 115.2L302.7 116.5L302.3 119.2L302.5 123.3ZM314.6 93.5L317.3 92.7L318.2 90.8L318.2 89.4L317.3 88.0L311.9 85.3L310.9 84.0L310.8 82.6L311.3 81.3L317.1 75.9L318.6 72.9L320.0 72.5L326.8 72.5L326.8 14.9L255.7 14.9L255.7 21.7L255.1 22.2L252.4 22.9L243.4 23.1L239.7 24.4L240.0 25.8L241.0 27.1L245.6 31.8L246.9 32.2L252.4 31.6L253.7 32.1L255.3 33.9L257.1 38.0L259.1 39.2L263.2 39.5L276.7 38.0L279.4 38.4L280.8 39.3L283.8 43.4L288.7 47.4L291.4 51.5L292.9 52.1L298.4 52.4L310.5 51.3L314.6 51.8L316.7 52.9L317.5 54.2L317.9 56.9L317.9 69.1L317.3 71.3L315.9 71.8L307.8 72.2L305.3 73.2L303.2 75.9L302.5 79.9L303.5 85.4L306.5 89.4L310.5 92.8ZM94.0 92.5L96.8 92.9L99.5 91.4L100.5 89.4L100.2 88.1L99.5 87.1L96.8 85.9L94.0 86.1L93.2 86.7L92.3 89.4L92.7 91.0ZM96.8 78.6L103.5 79.2L108.9 79.0L111.6 77.9L115.7 73.6L118.4 71.8L119.8 71.6L123.8 72.5L125.2 72.4L131.8 70.5L136.0 67.4L140.7 65.0L141.5 62.3L141.0 59.6L140.1 58.8L138.7 58.6L131.9 59.8L130.6 59.2L125.2 53.6L121.1 52.3L113.0 51.7L110.3 52.0L108.9 52.6L107.6 54.0L104.9 58.2L103.5 58.9L100.8 59.2L96.8 58.9L94.6 58.3L92.6 52.9L90.0 51.2L77.8 50.9L75.1 51.6L73.7 52.9L73.1 55.6L73.8 57.4L75.1 58.6L77.8 59.4L88.6 59.3L91.3 59.5L92.7 60.1L93.4 63.7L93.1 74.5L94.3 77.2ZM44.0 73.1L49.4 73.1L52.0 67.7L51.3 58.3L51.6 48.8L50.8 46.8L49.4 45.4L42.6 45.4L42.6 73.1ZM211.8 72.5L214.5 73.1L229.3 71.5L237.5 72.7L240.2 72.0L241.5 70.6L242.0 69.1L241.5 62.3L242.8 56.9L242.3 54.2L240.5 52.9L237.5 51.8L236.1 50.6L234.3 46.1L232.7 44.7L228.0 44.3L213.1 45.8L210.4 44.5L207.7 39.3L206.3 38.2L205.0 38.2L203.6 39.1L199.8 43.4L195.4 46.1L195.0 48.8L196.3 51.5L198.2 52.6L205.0 52.1L206.3 52.6L207.7 54.0L208.4 55.6L208.7 58.3L207.8 65.0L208.0 67.7L209.4 70.5Z"/>
<path fill="#6a0c23" d="M64.3 174.9L75.1 175.8L77.0 174.7L80.7 169.3L85.9 166.6L86.9 163.9L87.4 153.1L87.0 150.4L86.4 149.0L85.0 147.7L81.9 146.9L80.3 147.7L79.6 149.0L78.6 154.4L77.8 156.1L76.5 157.1L75.1 157.1L71.0 154.0L68.3 152.7L63.2 153.1L61.6 153.8L60.2 155.1L59.2 158.5L59.2 170.7L60.2 173.4L61.6 174.3ZM240.2 154.5L242.9 154.4L245.6 153.6L246.9 152.7L248.7 150.4L249.4 147.7L249.3 143.6L248.3 141.5L246.9 140.6L245.6 140.4L244.1 140.9L240.2 145.3L236.0 149.0L235.6 150.4L235.7 151.7L236.5 153.1ZM264.5 127.7L265.9 127.6L267.2 126.9L269.8 123.3L270.0 121.9L269.6 120.6L267.6 119.2L264.5 119.1L262.5 120.6L262.0 121.9L262.2 124.6L263.2 126.9ZM107.6 120.6L110.3 120.8L112.8 119.2L113.8 117.9L114.2 116.5L113.7 115.2L111.6 113.0L110.3 112.7L108.9 113.3L106.4 116.5L106.0 117.9L106.3 119.2ZM148.2 120.9L152.2 121.0L154.9 120.0L155.7 119.2L156.0 117.9L155.3 116.5L153.6 115.0L150.9 114.1L148.3 115.2L147.1 116.5L146.2 119.2L147.2 120.6ZM108.9 73.7L111.6 72.8L113.7 70.5L114.2 69.1L114.1 67.7L113.0 66.5L111.6 65.8L108.9 65.7L107.6 66.5L106.9 67.7L106.8 71.8L107.6 73.1ZM123.8 66.5L126.5 66.8L127.9 66.4L128.4 65.0L127.6 62.3L125.9 59.6L123.8 58.0L122.5 57.8L121.1 58.3L120.1 59.6L119.9 62.3L121.2 65.0ZM225.3 66.8L230.7 66.9L234.8 66.1L235.7 65.0L236.0 63.7L235.7 61.0L234.8 59.6L232.1 58.7L228.0 58.3L225.3 58.7L223.9 59.4L222.6 61.0L222.1 63.7L222.6 65.1L223.9 66.3ZM307.8 46.3L311.9 46.3L317.3 45.2L326.8 45.3L326.8 31.7L320.0 31.7L315.9 25.3L313.2 23.8L307.8 23.6L301.1 24.9L294.3 23.0L291.6 23.1L290.2 23.6L289.4 24.4L289.0 25.8L289.6 28.5L290.5 29.8L302.3 40.7L305.1 45.3Z"/>
</g>
<path fill="none" stroke="#000" stroke-width="1" stroke-linejoin="round" d="M49.4 189.2L58.1 190.4L71.3 189.2L92.3 188.9L97.6 193.6L99.3 198.3L105.4 200.6L113.0 207.1L111.2 210.2L115.1 212.0L120.0 219.2L124.4 219.7L129.6 217.5L134.0 215.7L135.1 217.3L135.8 229.1L137.6 239.4L139.9 249.7L144.3 257.0L147.2 261.4L148.8 267.2L150.5 272.2L153.4 278.9L157.7 289.1L161.4 300.0L167.7 305.9L173.1 300.0L178.2 298.6L177.4 296.4L181.1 290.5L184.0 287.6L184.3 278.9L186.2 272.3L186.2 262.8L185.5 255.5L188.4 251.8L193.0 248.7L198.9 245.4L200.3 242.4L206.9 238.1L214.2 232.2L223.0 224.9L231.7 219.8L232.0 214.7L234.6 213.2L244.9 212.9L246.0 211.0L249.2 211.8L252.2 212.1L253.6 211.0L255.8 208.1L256.2 205.9L260.9 205.9L264.6 208.9L266.0 213.2L269.7 220.5L275.5 226.4L277.0 228.6L281.4 236.6L282.1 242.4L280.5 248.2L281.0 251.7L285.0 253.8L290.0 252.9L300.5 245.6L303.0 250.0L304.7 257.5L307.2 267.6L310.2 272.7L310.2 278.5L311.4 282.7L310.2 286.9L308.9 295.3L307.6 301.2L308.1 307.1L311.0 304.6L315.2 308.8L318.6 313.8L320.6 316.7M320.6 277.2L317.7 282.7L314.8 291.1L314.8 297.4L319.4 297.7L320.6 298.7M185.5 293.7L183.3 299.3L182.3 303.7L183.3 313.9L186.2 319.7L192.8 317.5L196.4 313.2L196.4 307.3L194.2 302.2L185.5 293.7ZM320.6 340.4L312.8 334.1L307.5 330.1L302.9 324.9L294.4 324.2L287.8 323.6L289.8 326.9L294.4 332.8L300.3 340.6L306.9 349.8L311.5 355.1L314.5 360.8"/>
<path d="M150.88 21.70V360.30M252.35 21.70V360.30M49.40 258.72H320.10M49.40 157.14H320.10M49.40 55.56H320.10" stroke="#333" stroke-width="1" stroke-dasharray="1.1 1.1" fill="none"/>
<path d="M65.2 22.1h0M80.0 22.1h0M94.8 22.1h0M109.6 22.1h0M124.3 22.1h0M139.1 22.1h0M213.1 22.1h0M227.9 22.1h0M242.7 22.1h0M257.5 22.1h0M272.2 22.1h0M287.0 22.1h0M301.8 22.1h0M316.6 22.1h0M57.8 36.9h0M72.6 36.9h0M87.4 36.9h0M102.2 36.9h0M117.0 36.9h0M131.7 36.9h0M146.5 36.9h0M190.9 36.9h0M205.7 36.9h0M220.5 36.9h0M235.3 36.9h0M250.1 36.9h0M264.9 36.9h0M279.6 36.9h0M294.4 36.9h0M309.2 36.9h0M50.4 51.6h0M65.2 51.6h0M80.0 51.6h0M94.8 51.6h0M109.6 51.6h0M124.3 51.6h0M139.1 51.6h0M153.9 51.6h0M168.7 51.6h0M183.5 51.6h0M198.3 51.6h0M213.1 51.6h0M227.9 51.6h0M242.7 51.6h0M257.5 51.6h0M272.2 51.6h0M287.0 51.6h0M301.8 51.6h0M316.6 51.6h0M57.8 66.4h0M72.6 66.4h0M87.4 66.4h0M102.2 66.4h0M117.0 66.4h0M131.7 66.4h0M146.5 66.4h0M161.3 66.4h0M176.1 66.4h0M190.9 66.4h0M205.7 66.4h0M220.5 66.4h0M235.3 66.4h0M250.1 66.4h0M264.9 66.4h0M279.6 66.4h0M294.4 66.4h0M309.2 66.4h0M50.4 81.2h0M65.2 81.2h0M80.0 81.2h0M94.8 81.2h0M109.6 81.2h0M124.3 81.2h0M139.1 81.2h0M153.9 81.2h0M168.7 81.2h0M213.1 81.2h0M227.9 81.2h0M242.7 81.2h0M257.5 81.2h0M272.2 81.2h0M287.0 81.2h0M301.8 81.2h0M316.6 81.2h0M57.8 95.9h0M72.6 95.9h0M87.4 95.9h0M102.2 95.9h0M117.0 95.9h0M131.7 95.9h0M146.5 95.9h0M205.7 95.9h0M220.5 95.9h0M235.3 95.9h0M250.1 95.9h0M264.9 95.9h0M279.6 95.9h0M294.4 95.9h0M309.2 95.9h0M50.4 110.7h0M65.2 110.7h0M80.0 110.7h0M94.8 110.7h0M109.6 110.7h0M124.3 110.7h0M139.1 110.7h0M153.9 110.7h0M168.7 110.7h0M183.5 110.7h0M198.3 110.7h0M213.1 110.7h0M227.9 110.7h0M242.7 110.7h0M257.5 110.7h0M272.2 110.7h0M287.0 110.7h0M301.8 110.7h0M316.6 110.7h0M57.8 125.5h0M72.6 125.5h0M87.4 125.5h0M102.2 125.5h0M117.0 125.5h0M131.7 125.5h0M146.5 125.5h0M161.3 125.5h0M176.1 125.5h0M190.9 125.5h0M205.7 125.5h0M220.5 125.5h0M235.3 125.5h0M250.1 125.5h0M264.9 125.5h0M279.6 125.5h0M294.4 125.5h0M309.2 125.5h0M50.4 140.3h0M65.2 140.3h0M80.0 140.3h0M94.8 140.3h0M109.6 140.3h0M124.3 140.3h0M139.1 140.3h0M153.9 140.3h0M168.7 140.3h0M183.5 140.3h0M198.3 140.3h0M213.1 140.3h0M227.9 140.3h0M242.7 140.3h0M257.5 140.3h0M272.2 140.3h0M287.0 140.3h0M301.8 140.3h0M316.6 140.3h0M57.8 155.0h0M72.6 155.0h0M87.4 155.0h0M102.2 155.0h0M131.7 155.0h0M161.3 155.0h0M176.1 155.0h0M190.9 155.0h0M205.7 155.0h0M220.5 155.0h0M235.3 155.0h0M250.1 155.0h0M264.9 155.0h0M279.6 155.0h0M294.4 155.0h0M309.2 155.0h0M50.4 169.8h0M65.2 169.8h0M80.0 169.8h0M94.8 169.8h0M124.3 169.8h0M139.1 169.8h0M153.9 169.8h0M168.7 169.8h0M183.5 169.8h0M198.3 169.8h0M213.1 169.8h0M227.9 169.8h0M242.7 169.8h0M257.5 169.8h0M272.2 169.8h0M287.0 169.8h0M301.8 169.8h0M316.6 169.8h0M57.8 184.6h0M72.6 184.6h0M87.4 184.6h0M102.2 184.6h0M117.0 184.6h0M131.7 184.6h0M146.5 184.6h0M161.3 184.6h0M176.1 184.6h0M190.9 184.6h0M205.7 184.6h0M220.5 184.6h0M235.3 184.6h0M250.1 184.6h0M264.9 184.6h0M279.6 184.6h0M294.4 184.6h0M309.2 184.6h0M80.0 199.3h0M94.8 199.3h0M109.6 199.3h0M124.3 199.3h0M139.1 199.3h0M153.9 199.3h0M168.7 199.3h0M183.5 199.3h0M198.3 199.3h0M213.1 199.3h0M227.9 199.3h0M242.7 199.3h0M257.5 199.3h0M272.2 199.3h0M287.0 199.3h0M301.8 199.3h0M316.6 199.3h0M57.8 214.1h0M72.6 214.1h0M87.4 214.1h0M102.2 214.1h0M117.0 214.1h0M131.7 214.1h0M146.5 214.1h0M161.3 214.1h0M176.1 214.1h0M190.9 214.1h0M205.7 214.1h0M220.5 214.1h0M235.3 214.1h0M250.1 214.1h0M264.9 214.1h0M279.6 214.1h0M294.4 214.1h0M309.2 214.1h0M50.4 228.9h0M65.2 228.9h0M80.0 228.9h0M109.6 228.9h0M124.3 228.9h0M139.1 228.9h0M153.9 228.9h0M168.7 228.9h0M183.5 228.9h0M198.3 228.9h0M213.1 228.9h0M227.9 228.9h0M242.7 228.9h0M257.5 228.9h0M272.2 228.9h0M287.0 228.9h0M301.8 228.9h0M316.6 228.9h0M102.2 243.6h0M117.0 243.6h0M131.7 243.6h0M146.5 243.6h0M161.3 243.6h0M176.1 243.6h0M190.9 243.6h0M205.7 243.6h0M220.5 243.6h0M235.3 243.6h0M250.1 243.6h0M264.9 243.6h0M279.6 243.6h0M294.4 243.6h0M309.2 243.6h0M65.2 258.4h0M94.8 258.4h0M109.6 258.4h0M124.3 258.4h0M139.1 258.4h0M153.9 258.4h0M168.7 258.4h0M183.5 258.4h0M198.3 258.4h0M213.1 258.4h0M227.9 258.4h0M242.7 258.4h0M257.5 258.4h0M272.2 258.4h0M287.0 258.4h0M301.8 258.4h0M316.6 258.4h0M72.6 273.2h0M87.4 273.2h0M102.2 273.2h0M117.0 273.2h0M131.7 273.2h0M146.5 273.2h0M161.3 273.2h0M176.1 273.2h0M190.9 273.2h0M205.7 273.2h0M220.5 273.2h0M235.3 273.2h0M250.1 273.2h0M264.9 273.2h0M279.6 273.2h0M294.4 273.2h0M309.2 273.2h0M50.4 288.0h0M65.2 288.0h0M80.0 288.0h0M94.8 288.0h0M109.6 288.0h0M124.3 288.0h0M139.1 288.0h0M153.9 288.0h0M168.7 288.0h0M183.5 288.0h0M198.3 288.0h0M213.1 288.0h0M227.9 288.0h0M242.7 288.0h0M257.5 288.0h0M272.2 288.0h0M287.0 288.0h0M301.8 288.0h0M316.6 288.0h0M57.8 302.7h0M72.6 302.7h0M87.4 302.7h0M102.2 302.7h0M117.0 302.7h0M131.7 302.7h0M146.5 302.7h0M161.3 302.7h0M176.1 302.7h0M190.9 302.7h0M205.7 302.7h0M220.5 302.7h0M235.3 302.7h0M250.1 302.7h0M264.9 302.7h0M279.6 302.7h0M294.4 302.7h0M309.2 302.7h0M50.4 317.5h0M65.2 317.5h0M80.0 317.5h0M94.8 317.5h0M109.6 317.5h0M124.3 317.5h0M139.1 317.5h0M153.9 317.5h0M168.7 317.5h0M183.5 317.5h0M198.3 317.5h0M213.1 317.5h0M227.9 317.5h0M242.7 317.5h0M257.5 317.5h0M272.2 317.5h0M287.0 317.5h0M301.8 317.5h0M316.6 317.5h0M57.8 332.3h0M72.6 332.3h0M87.4 332.3h0M102.2 332.3h0M117.0 332.3h0M131.7 332.3h0M146.5 332.3h0M161.3 332.3h0M176.1 332.3h0M190.9 332.3h0M205.7 332.3h0M220.5 332.3h0M235.3 332.3h0M250.1 332.3h0M264.9 332.3h0M279.6 332.3h0M294.4 332.3h0M309.2 332.3h0M50.4 347.0h0M65.2 347.0h0M80.0 347.0h0M94.8 347.0h0M109.6 347.0h0M124.3 347.0h0M139.1 347.0h0M153.9 347.0h0M168.7 347.0h0M183.5 347.0h0M198.3 347.0h0M213.1 347.0h0M227.9 347.0h0M242.7 347.0h0M257.5 347.0h0M272.2 347.0h0M287.0 347.0h0M301.8 347.0h0M316.6 347.0h0M57.8 361.8h0M72.6 361.8h0M87.4 361.8h0M102.2 361.8h0M117.0 361.8h0M131.7 361.8h0M146.5 361.8h0M161.3 361.8h0M176.1 361.8h0M190.9 361.8h0M205.7 361.8h0M220.5 361.8h0M235.3 361.8h0M250.1 361.8h0M264.9 361.8h0M279.6 361.8h0M294.4 361.8h0M309.2 361.8h0" stroke="#000" stroke-width="4.40" stroke-linecap="round" fill="none"/>
</g>
<rect x="49.40" y="21.70" width="270.70" height="338.60" fill="none" stroke="#000" stroke-width="1"/>
<path d="M49.40 360.30v4.6M150.88 360.30v4.6M252.35 360.30v4.6M49.40 55.56h-4.6M49.40 157.14h-4.6M49.40 258.72h-4.6M49.40 360.30h-4.6" stroke="#222" stroke-width="0.9" fill="none"/>
<text transform="translate(1.24 62.06) scale(1.0900 1)" font-size="16.20">45°N</text>
<text transform="translate(1.24 163.64) scale(1.0900 1)" font-size="16.20">30°N</text>
<text transform="translate(1.24 265.22) scale(1.0900 1)" font-size="16.20">15°N</text>
<text transform="translate(23.48 366.80) scale(1.0900 1)" font-size="16.20">0°</text>
<text transform="translate(29.76 380.80) scale(1.0900 1)" font-size="16.20">60°E</text>
<text transform="translate(131.24 380.80) scale(1.0900 1)" font-size="16.20">75°E</text>
<text transform="translate(232.71 380.80) scale(1.0900 1)" font-size="16.20">90°E</text>
<text transform="translate(135.71 14.60) scale(1.1970 1)" font-size="18.00">(a)</text>
<text transform="translate(167.50 14.60) scale(1.0421 1)" font-size="18.00">ERA5 T</text>
<g clip-path="url(#fb)">
<g clip-path="url(#lb)">
<rect x="404.8" y="19.9" width="280.3" height="342.2" fill="#bfbfbf"/>
<path fill="#ececec" d="M401.3 370.8L690.0 370.8L690.0 11.6L399.9 11.6L399.9 370.8ZM515.6 206.4L511.8 203.9L509.5 200.9L508.5 196.7L509.4 194.0L511.1 192.6L514.6 191.6L524.2 191.4L525.1 192.6L525.2 196.7L524.7 200.9L523.9 203.6L522.8 205.3L520.1 207.0L517.3 207.0ZM551.0 191.2L542.2 190.7L528.4 190.9L525.6 190.4L524.1 182.9L521.5 178.8L519.8 177.4L512.2 173.3L504.9 165.6L499.5 160.8L497.4 158.1L496.6 155.3L497.3 151.1L499.4 147.2L502.1 143.6L503.5 142.9L504.9 143.0L517.3 148.0L524.2 149.9L528.1 152.5L532.3 158.1L534.0 159.4L536.7 160.5L545.0 162.1L547.7 163.3L549.5 165.0L553.2 173.2L556.0 175.6L560.1 176.5L568.4 174.6L572.6 174.6L575.3 175.8L576.7 177.0L578.7 180.2L579.3 184.3L578.5 187.1L576.7 189.4L574.0 191.1L569.8 192.1L565.7 192.4ZM499.1 137.3L497.5 136.0L496.8 134.6L498.0 133.1L499.4 133.0L500.7 133.7L502.1 136.0L501.9 137.3L500.7 138.0Z"/>
<path fill="#f6e7dc" d="M401.3 370.8L690.0 370.8L690.0 11.6L399.9 11.6L399.9 370.8ZM520.9 221.6L518.7 220.3L512.4 213.3L501.5 205.0L498.1 200.9L496.3 195.4L495.6 188.4L495.9 184.3L497.7 174.6L497.1 171.9L495.2 169.1L489.7 163.8L486.9 162.0L482.8 160.9L470.3 159.6L467.6 158.1L466.6 156.7L465.7 153.9L465.5 149.8L467.7 138.7L470.4 133.2L473.1 130.6L475.9 129.0L482.8 127.1L495.2 125.4L500.7 125.6L504.9 126.8L508.0 129.0L514.6 137.3L517.3 139.1L531.1 142.9L535.3 145.2L543.6 151.9L547.7 153.4L555.7 155.3L558.8 156.7L560.5 158.1L565.7 164.3L568.4 165.7L575.3 167.6L579.5 169.5L582.9 171.9L587.8 177.0L590.5 178.8L593.3 179.6L601.6 180.6L605.7 182.1L608.5 184.2L609.7 185.7L612.0 189.8L613.6 194.0L614.0 198.1L612.4 200.9L608.5 202.7L598.8 204.7L593.3 206.6L589.2 209.2L582.3 215.5L576.7 218.4L568.4 219.5L551.9 219.0L542.2 219.3L533.9 220.2L525.6 221.9L522.8 222.1Z"/>
<path fill="#e9a587" d="M401.3 370.8L690.0 370.8L690.0 11.6L399.9 11.6L399.9 370.8ZM555.9 290.7L550.5 288.0L542.2 288.6L533.9 288.4L529.8 287.6L527.0 286.1L525.1 283.8L524.2 281.0L525.0 271.3L524.2 267.2L522.0 264.4L513.8 258.9L511.6 256.1L509.0 249.9L507.6 248.5L505.6 247.9L491.1 247.5L484.2 249.5L475.9 249.9L474.4 250.6L471.7 254.8L470.3 256.2L469.0 256.9L464.8 256.5L460.7 254.0L459.3 253.7L456.5 254.1L453.0 256.1L449.5 260.3L441.1 268.6L437.2 269.6L434.4 269.2L433.4 268.6L433.2 267.2L434.4 265.2L438.6 261.9L446.9 253.4L451.0 249.9L453.8 246.5L457.9 243.4L460.7 239.6L465.5 235.4L469.0 231.3L471.7 229.3L475.9 224.4L479.9 221.6L481.4 218.8L483.6 205.0L483.6 198.1L482.0 194.0L476.6 188.4L475.4 185.7L475.9 184.3L481.4 180.9L484.2 178.1L485.3 174.6L485.1 171.9L483.4 169.1L481.7 167.7L477.3 166.3L471.7 166.9L464.8 170.3L463.4 170.8L462.1 170.5L460.7 169.0L459.2 163.6L457.9 148.4L458.8 141.5L460.8 136.0L463.1 131.8L465.5 129.0L469.6 126.3L476.4 123.5L484.2 122.1L498.0 121.4L502.1 121.7L506.3 122.6L510.5 124.9L516.6 131.8L520.1 134.6L524.2 136.3L535.3 139.6L539.0 141.5L547.7 147.5L562.3 152.5L565.7 154.6L572.6 160.0L585.0 165.7L594.7 172.5L598.8 173.9L608.5 174.6L611.3 175.4L614.0 177.4L620.9 185.7L625.1 188.7L629.2 190.1L638.9 190.0L641.7 190.5L644.4 191.7L646.5 194.0L647.7 198.1L646.5 202.3L643.6 205.0L636.6 209.2L634.7 211.9L634.2 214.7L635.1 223.0L634.7 224.9L633.4 225.6L629.2 225.2L627.8 225.5L626.5 226.4L620.7 232.7L619.0 235.4L616.9 240.9L611.3 245.1L610.5 247.9L610.8 253.4L610.1 254.8L603.8 258.9L603.0 261.7L603.9 279.6L603.0 282.7L601.6 284.0L598.8 284.9L574.0 284.4L571.2 285.5L567.4 290.7L565.7 291.6L560.1 291.9ZM425.9 275.5L425.5 274.1L426.1 272.7L427.5 272.1L428.9 272.2L429.4 272.7L429.5 274.1L428.9 275.5L427.5 276.1ZM670.2 206.4L667.1 205.0L664.7 202.3L663.9 199.5L664.4 195.4L666.1 192.6L669.3 190.5L673.4 189.5L677.6 190.1L679.2 191.2L680.6 194.0L681.1 198.1L680.3 203.1L679.0 205.2L676.7 206.4L673.4 206.8ZM518.7 246.5L528.4 247.4L531.1 247.2L533.9 246.0L536.2 243.7L537.7 239.6L537.7 235.4L536.7 233.1L534.4 231.3L531.1 230.4L518.7 230.8L514.7 229.9L513.1 228.5L509.8 221.6L507.6 218.7L506.1 217.5L503.5 216.5L500.2 217.5L496.2 221.6L495.3 223.0L495.4 224.4L500.7 230.5L508.7 235.4L509.5 236.8L511.8 243.7L513.2 245.1ZM488.3 225.8L489.7 225.7L492.8 224.4L493.6 223.0L491.1 221.2L488.7 221.6L487.5 223.0L486.9 224.4Z"/>
<path fill="#cd544a" d="M419.2 180.2L431.7 180.4L440.0 179.8L445.5 178.6L448.1 177.4L449.6 176.1L451.7 171.9L452.4 166.3L452.2 159.4L451.0 149.8L451.2 145.6L452.4 141.5L456.6 133.2L460.2 127.7L464.8 123.9L475.9 118.8L481.4 117.7L504.9 117.7L509.0 118.2L511.8 119.0L514.6 121.0L520.8 129.0L524.2 131.6L539.4 136.7L551.2 144.2L567.0 149.8L575.3 155.3L579.5 157.5L600.2 163.6L609.9 162.4L612.6 162.6L615.4 163.5L618.1 166.3L622.4 174.6L625.1 177.4L627.8 178.9L630.6 179.1L632.0 178.7L633.7 177.4L634.7 175.3L636.2 169.1L637.4 166.3L638.9 164.6L641.7 163.1L647.2 162.5L658.2 163.8L663.8 163.9L670.7 162.8L674.8 161.0L677.6 158.5L683.1 149.8L690.0 149.8L690.0 11.6L399.9 11.6L399.9 179.9Z"/>
<path fill="#931a2c" d="M424.8 174.7L431.7 174.7L437.2 173.9L441.3 172.3L444.1 169.5L445.1 166.3L445.2 163.6L442.9 153.9L442.6 149.8L442.9 145.6L444.1 141.5L451.0 132.3L456.5 123.4L459.3 121.2L467.7 116.6L470.2 113.8L470.5 111.1L468.0 104.2L468.2 101.4L470.3 98.7L474.5 96.7L478.6 96.5L481.0 97.3L482.8 98.7L484.3 101.4L485.6 108.3L486.4 109.7L488.1 111.1L492.4 112.5L498.0 112.7L503.5 111.7L506.3 109.7L507.6 106.9L509.3 100.0L511.8 96.5L513.2 95.6L515.9 94.7L520.1 95.4L522.8 98.0L524.2 101.4L524.7 106.9L523.7 119.4L524.8 123.5L527.0 126.6L531.1 129.0L542.2 132.3L545.0 134.0L551.9 139.6L555.0 141.5L558.8 142.9L569.8 145.3L572.6 146.6L580.9 152.0L583.6 153.0L587.8 153.9L593.3 153.9L615.4 151.8L625.1 149.3L630.6 147.0L633.5 144.2L635.2 140.1L636.1 134.6L636.7 123.5L637.5 122.5L666.5 122.6L672.0 121.9L676.2 120.2L678.3 118.0L679.2 115.2L678.3 104.2L679.3 100.0L683.1 96.1L690.0 96.1L690.0 11.6L399.9 11.6L399.9 173.8L412.3 173.7ZM627.7 120.8L622.2 118.0L620.8 116.6L619.3 113.8L619.2 111.1L619.7 109.7L620.9 108.2L623.7 106.8L627.8 106.4L630.6 107.1L633.4 109.0L635.2 112.5L635.9 116.6L635.9 120.8L634.7 121.6ZM549.4 118.0L544.9 115.2L542.5 112.5L540.9 109.7L539.5 104.2L539.6 101.4L540.3 98.7L542.2 95.8L544.1 94.5L546.3 93.7L551.9 93.5L557.4 94.6L562.0 97.3L565.2 101.4L567.6 106.9L568.0 109.7L567.7 112.5L565.7 115.5L562.9 117.4L560.1 118.4L554.6 119.0Z"/>
<path fill="#6a0c23" d="M401.3 166.0L406.8 166.0L409.4 163.6L410.2 162.2L410.6 158.1L409.7 147.0L410.1 144.2L411.4 141.5L413.7 139.6L422.3 134.6L428.9 126.2L433.0 123.5L438.6 120.9L440.1 119.4L440.7 118.0L441.0 115.2L440.2 111.1L437.2 104.7L434.4 101.4L433.0 101.0L422.0 108.8L415.1 111.4L410.9 111.6L408.2 110.5L406.8 109.3L399.9 109.3L399.9 166.0ZM585.0 147.1L590.5 147.9L601.6 146.7L622.3 140.5L625.8 138.7L627.8 136.5L628.9 133.2L628.6 130.4L626.5 127.7L623.9 126.3L614.0 121.8L609.9 120.9L600.2 122.8L594.7 123.2L587.8 122.8L578.1 121.2L574.0 121.3L557.2 124.9L553.7 126.3L552.1 127.7L551.6 129.0L552.1 131.8L554.1 134.6L557.4 137.1L561.5 138.4L571.2 138.5L574.0 139.1L576.7 140.7L582.3 145.4ZM433.0 99.4L434.4 99.7L440.0 96.6L445.5 94.9L449.6 94.6L456.5 94.9L460.7 94.4L473.9 89.0L475.9 87.6L476.5 86.2L476.3 84.8L470.7 77.9L469.0 73.8L469.2 71.0L469.8 69.6L470.8 68.3L473.1 66.7L478.6 65.7L492.5 67.1L502.1 66.9L511.8 67.3L515.9 66.9L518.7 66.1L521.5 64.2L525.8 57.2L528.4 54.5L531.1 53.0L535.3 52.3L549.1 53.3L567.1 52.9L582.3 53.3L597.4 51.5L603.0 52.5L605.7 54.4L606.6 55.8L607.2 58.6L606.6 61.4L604.4 64.2L597.4 68.4L594.7 70.8L593.3 73.8L593.5 76.5L595.3 79.3L597.4 80.8L608.7 84.8L615.4 88.3L618.2 89.1L622.3 89.2L627.8 87.6L632.0 87.2L645.8 87.7L690.0 87.6L690.0 11.6L399.9 11.6L399.9 93.5L406.8 93.5L412.3 92.8L419.2 93.3L424.3 94.5L427.8 95.9Z"/>
</g>
<path fill="none" stroke="#000" stroke-width="1" stroke-linejoin="round" d="M406.8 189.4L415.7 190.6L429.2 189.4L450.6 189.1L456.0 193.9L457.8 198.7L464.0 201.0L471.7 207.6L469.9 210.8L473.9 212.6L478.9 220.0L483.4 220.5L488.7 218.2L493.2 216.4L494.3 218.0L495.0 230.1L496.9 240.6L499.2 251.1L503.7 258.5L506.7 263.0L508.3 268.9L510.0 274.0L513.0 280.9L517.4 291.3L521.2 302.4L527.6 308.4L533.1 302.4L538.3 301.0L537.5 298.7L541.3 292.7L544.2 289.7L544.5 280.9L546.5 274.1L546.5 264.4L545.8 257.0L548.7 253.2L553.4 250.1L559.4 246.7L560.9 243.6L567.6 239.3L575.1 233.2L584.1 225.8L592.9 220.6L593.2 215.4L595.9 213.9L606.4 213.6L607.5 211.6L610.8 212.4L613.9 212.7L615.3 211.6L617.5 208.7L618.0 206.4L622.8 206.4L626.5 209.5L628.0 213.9L631.7 221.3L637.7 227.3L639.2 229.6L643.7 237.7L644.4 243.6L642.8 249.6L643.3 253.1L647.4 255.3L652.5 254.4L663.2 246.9L665.7 251.4L667.5 259.0L670.0 269.3L673.1 274.5L673.1 280.5L674.3 284.7L673.1 289.0L671.8 297.6L670.4 303.6L670.9 309.6L673.9 307.1L678.2 311.4L681.7 316.5L683.7 319.4M683.7 279.1L680.8 284.7L677.8 293.3L677.8 299.7L682.5 300.0L683.7 301.1M545.8 296.0L543.5 301.7L542.5 306.2L543.5 316.6L546.5 322.5L553.2 320.2L556.9 315.9L556.9 309.8L554.7 304.6L545.8 296.0ZM683.7 343.6L675.7 337.2L670.3 333.1L665.6 327.8L657.0 327.1L650.2 326.5L652.3 329.8L657.0 335.8L663.0 343.8L669.7 353.2L674.4 358.6L677.5 364.4"/>
<path d="M510.41 21.90V360.10M614.02 21.90V360.10M406.80 260.29H683.10M406.80 156.67H683.10M406.80 53.06H683.10" stroke="#333" stroke-width="1" stroke-dasharray="1.1 1.1" fill="none"/>
<path d="M420.1 22.1h0M434.9 22.1h0M449.7 22.1h0M464.5 22.1h0M479.3 22.1h0M494.1 22.1h0M508.9 22.1h0M523.7 22.1h0M538.5 22.1h0M553.3 22.1h0M568.0 22.1h0M582.8 22.1h0M597.6 22.1h0M612.4 22.1h0M627.2 22.1h0M642.0 22.1h0M656.8 22.1h0M671.6 22.1h0M412.8 36.9h0M427.5 36.9h0M442.3 36.9h0M457.1 36.9h0M471.9 36.9h0M486.7 36.9h0M501.5 36.9h0M516.3 36.9h0M531.1 36.9h0M545.9 36.9h0M560.7 36.9h0M575.4 36.9h0M590.2 36.9h0M605.0 36.9h0M619.8 36.9h0M634.6 36.9h0M649.4 36.9h0M664.2 36.9h0M679.0 36.9h0M420.1 51.6h0M434.9 51.6h0M449.7 51.6h0M464.5 51.6h0M479.3 51.6h0M494.1 51.6h0M508.9 51.6h0M523.7 51.6h0M538.5 51.6h0M553.3 51.6h0M568.0 51.6h0M582.8 51.6h0M597.6 51.6h0M612.4 51.6h0M627.2 51.6h0M642.0 51.6h0M656.8 51.6h0M671.6 51.6h0M412.8 66.4h0M427.5 66.4h0M442.3 66.4h0M457.1 66.4h0M471.9 66.4h0M486.7 66.4h0M501.5 66.4h0M516.3 66.4h0M531.1 66.4h0M545.9 66.4h0M560.7 66.4h0M575.4 66.4h0M590.2 66.4h0M605.0 66.4h0M619.8 66.4h0M634.6 66.4h0M649.4 66.4h0M664.2 66.4h0M679.0 66.4h0M420.1 81.2h0M434.9 81.2h0M449.7 81.2h0M464.5 81.2h0M479.3 81.2h0M494.1 81.2h0M508.9 81.2h0M523.7 81.2h0M538.5 81.2h0M553.3 81.2h0M568.0 81.2h0M582.8 81.2h0M597.6 81.2h0M612.4 81.2h0M627.2 81.2h0M642.0 81.2h0M656.8 81.2h0M671.6 81.2h0M412.8 95.9h0M427.5 95.9h0M442.3 95.9h0M457.1 95.9h0M471.9 95.9h0M486.7 95.9h0M501.5 95.9h0M516.3 95.9h0M531.1 95.9h0M545.9 95.9h0M560.7 95.9h0M575.4 95.9h0M590.2 95.9h0M605.0 95.9h0M619.8 95.9h0M634.6 95.9h0M649.4 95.9h0M664.2 95.9h0M679.0 95.9h0M420.1 110.7h0M434.9 110.7h0M449.7 110.7h0M464.5 110.7h0M479.3 110.7h0M494.1 110.7h0M508.9 110.7h0M523.7 110.7h0M538.5 110.7h0M553.3 110.7h0M568.0 110.7h0M582.8 110.7h0M597.6 110.7h0M612.4 110.7h0M627.2 110.7h0M642.0 110.7h0M656.8 110.7h0M671.6 110.7h0M412.8 125.5h0M427.5 125.5h0M442.3 125.5h0M457.1 125.5h0M471.9 125.5h0M486.7 125.5h0M501.5 125.5h0M516.3 125.5h0M531.1 125.5h0M545.9 125.5h0M560.7 125.5h0M575.4 125.5h0M590.2 125.5h0M605.0 125.5h0M619.8 125.5h0M634.6 125.5h0M649.4 125.5h0M664.2 125.5h0M679.0 125.5h0M420.1 140.3h0M434.9 140.3h0M449.7 140.3h0M464.5 140.3h0M479.3 140.3h0M494.1 140.3h0M508.9 140.3h0M523.7 140.3h0M538.5 140.3h0M553.3 140.3h0M568.0 140.3h0M582.8 140.3h0M597.6 140.3h0M612.4 140.3h0M627.2 140.3h0M642.0 140.3h0M656.8 140.3h0M671.6 140.3h0M412.8 155.0h0M427.5 155.0h0M442.3 155.0h0M457.1 155.0h0M471.9 155.0h0M501.5 155.0h0M516.3 155.0h0M531.1 155.0h0M545.9 155.0h0M560.7 155.0h0M575.4 155.0h0M590.2 155.0h0M605.0 155.0h0M619.8 155.0h0M634.6 155.0h0M649.4 155.0h0M664.2 155.0h0M679.0 155.0h0M420.1 169.8h0M434.9 169.8h0M449.7 169.8h0M464.5 169.8h0M479.3 169.8h0M494.1 169.8h0M508.9 169.8h0M523.7 169.8h0M538.5 169.8h0M553.3 169.8h0M568.0 169.8h0M582.8 169.8h0M597.6 169.8h0M612.4 169.8h0M627.2 169.8h0M642.0 169.8h0M656.8 169.8h0M671.6 169.8h0M412.8 184.6h0M427.5 184.6h0M442.3 184.6h0M457.1 184.6h0M471.9 184.6h0M486.7 184.6h0M501.5 184.6h0M531.1 184.6h0M545.9 184.6h0M560.7 184.6h0M575.4 184.6h0M590.2 184.6h0M605.0 184.6h0M619.8 184.6h0M634.6 184.6h0M649.4 184.6h0M664.2 184.6h0M679.0 184.6h0M464.5 199.3h0M479.3 199.3h0M494.1 199.3h0M523.7 199.3h0M538.5 199.3h0M553.3 199.3h0M568.0 199.3h0M582.8 199.3h0M597.6 199.3h0M627.2 199.3h0M642.0 199.3h0M656.8 199.3h0M671.6 199.3h0M471.9 214.1h0M486.7 214.1h0M501.5 214.1h0M516.3 214.1h0M531.1 214.1h0M545.9 214.1h0M560.7 214.1h0M619.8 214.1h0M634.6 214.1h0M649.4 214.1h0M664.2 214.1h0M679.0 214.1h0M494.1 228.9h0M508.9 228.9h0M523.7 228.9h0M582.8 228.9h0M642.0 228.9h0M656.8 228.9h0M671.6 228.9h0M501.5 243.6h0M516.3 243.6h0M531.1 243.6h0M545.9 243.6h0M560.7 243.6h0M649.4 243.6h0M664.2 243.6h0M508.9 258.4h0M523.7 258.4h0M538.5 258.4h0M671.6 258.4h0M516.3 273.2h0M531.1 273.2h0M545.9 273.2h0M679.0 273.2h0M523.7 288.0h0M538.5 288.0h0M671.6 288.0h0M531.1 302.7h0M545.9 302.7h0M679.0 302.7h0M553.3 317.5h0M664.2 332.3h0M671.6 347.0h0" stroke="#000" stroke-width="4.40" stroke-linecap="round" fill="none"/>
</g>
<rect x="406.80" y="21.90" width="276.30" height="338.20" fill="none" stroke="#000" stroke-width="1"/>
<path d="M406.80 360.10v4.6M510.41 360.10v4.6M614.02 360.10v4.6M406.80 53.06h-4.6M406.80 156.67h-4.6M406.80 260.29h-4.6" stroke="#222" stroke-width="0.9" fill="none"/>
<text transform="translate(358.64 59.56) scale(1.0900 1)" font-size="16.20">45°N</text>
<text transform="translate(358.64 163.17) scale(1.0900 1)" font-size="16.20">30°N</text>
<text transform="translate(358.64 266.79) scale(1.0900 1)" font-size="16.20">15°N</text>
<text transform="translate(387.16 380.60) scale(1.0900 1)" font-size="16.20">60°E</text>
<text transform="translate(490.78 380.60) scale(1.0900 1)" font-size="16.20">75°E</text>
<text transform="translate(594.39 380.60) scale(1.0900 1)" font-size="16.20">90°E</text>
<text transform="translate(474.01 14.60) scale(1.1970 1)" font-size="18.00">(b)</text>
<text transform="translate(506.16 14.60) scale(1.0431 1)" font-size="18.00">CESM2-LE T</text>
<g clip-path="url(#fc)">
<g clip-path="url(#sc)">
<rect x="47.4" y="522.0" width="274.7" height="342.2" fill="#daf1ec"/>
<path fill="#8fd8c5" d="M320.0 804.7L326.8 804.7L326.8 770.9L320.0 770.9L318.3 772.9L317.8 774.3L317.6 800.0L318.3 802.7Z"/>
</g>
<g clip-path="url(#lc)">
<rect x="47.4" y="522.0" width="274.7" height="342.2" fill="#f1ecd6"/>
<path fill="#daf1ec" d="M44.0 869.0L326.8 869.0L326.8 517.2L42.6 517.2L42.6 624.3L58.9 624.5L87.3 622.7L92.7 621.7L102.2 618.3L103.5 618.7L104.5 621.4L103.1 636.3L101.5 643.0L99.5 647.0L94.0 655.2L90.0 659.3L83.6 662.0L72.4 664.3L56.0 668.7L49.4 669.8L42.6 669.8L42.6 869.0Z"/>
<path fill="#8fd8c5" d="M44.0 869.0L326.8 869.0L326.8 713.4L320.0 713.4L319.0 708.0L320.0 699.9L326.8 699.9L326.8 686.3L320.0 686.3L318.0 683.6L310.6 679.6L308.0 676.9L306.8 674.2L306.3 671.5L306.9 662.0L306.5 659.3L305.1 658.2L302.4 657.5L295.6 658.4L290.2 660.4L278.1 666.5L275.4 667.0L267.2 667.0L263.2 667.5L259.1 668.9L252.4 672.8L249.6 672.4L242.9 668.7L238.8 667.1L221.2 663.7L213.1 663.0L205.0 664.1L200.9 664.1L196.9 662.5L194.0 659.3L192.6 655.2L191.7 645.8L190.5 643.0L188.8 641.3L186.1 640.1L183.3 639.9L173.9 641.9L169.8 641.8L146.7 633.6L144.1 632.2L142.7 630.9L142.5 629.5L143.7 628.2L150.9 625.8L157.6 624.9L168.5 625.3L171.2 624.9L173.9 623.8L176.5 621.4L177.9 618.7L178.4 616.0L178.7 606.5L179.4 603.8L180.6 601.6L184.7 598.3L195.5 593.7L199.6 590.4L202.3 587.4L204.3 583.5L205.0 578.1L204.5 575.4L202.8 571.3L197.3 563.2L195.3 559.2L194.8 555.1L195.5 552.8L196.9 551.5L198.2 551.1L199.6 551.3L206.1 556.5L211.8 558.2L217.2 558.3L226.6 557.5L237.5 557.6L246.9 556.7L251.0 557.1L253.7 558.2L256.4 560.4L261.8 568.2L263.6 570.0L265.9 571.3L269.9 572.5L275.4 572.9L279.4 572.3L283.5 570.3L284.9 568.6L285.9 565.9L285.7 563.2L284.8 561.2L283.1 559.2L276.7 555.0L273.8 552.4L271.1 548.4L266.9 538.9L264.6 536.2L261.2 533.5L256.4 530.9L251.0 529.6L238.8 529.8L228.0 529.4L225.3 529.8L222.6 530.9L217.2 535.3L214.5 536.9L211.8 537.5L210.4 537.3L207.7 535.5L204.2 529.4L202.4 528.1L200.9 527.6L192.8 527.3L180.6 528.8L175.2 528.8L168.5 527.6L160.3 524.5L157.6 524.0L157.6 517.2L157.6 524.0L153.6 525.0L147.8 528.1L144.7 530.8L143.5 533.5L144.1 537.5L149.5 546.8L151.0 552.4L151.3 557.8L150.8 564.6L150.0 568.6L149.0 570.0L146.8 571.1L144.1 571.6L125.2 572.8L118.4 572.6L108.9 571.4L104.9 571.4L100.8 572.6L97.7 575.4L96.6 578.1L96.3 580.8L96.6 584.9L97.8 590.3L99.4 594.3L100.8 596.4L102.2 597.8L104.9 599.3L108.9 600.2L115.7 600.6L126.5 600.4L134.6 599.6L141.4 597.9L154.9 592.0L157.6 591.6L160.3 593.1L162.3 595.7L163.8 599.8L163.7 603.8L161.8 607.9L158.6 610.6L156.3 611.5L153.6 611.9L144.1 611.8L138.7 613.2L133.9 616.0L126.5 622.1L118.4 626.4L115.7 628.3L113.0 631.0L110.3 634.9L105.2 647.1L102.2 652.2L96.2 659.3L91.3 662.9L85.9 665.2L64.3 672.5L49.4 674.9L42.6 674.9L42.6 789.6L49.4 789.6L56.2 784.9L58.0 782.4L59.0 779.7L60.2 778.5L64.8 777.0L68.3 772.1L72.4 769.4L75.1 765.6L79.2 762.3L81.0 759.4L84.9 756.7L87.9 752.6L92.7 748.9L94.6 745.9L98.4 743.2L102.2 738.3L105.2 736.4L108.9 731.5L113.0 728.7L115.7 724.7L119.8 722.1L120.8 720.2L120.7 714.7L121.1 712.8L123.0 710.7L126.5 709.1L130.6 709.1L133.0 710.7L134.1 712.0L139.2 722.9L139.9 725.6L139.5 728.3L138.7 729.5L137.3 730.2L130.6 730.0L129.2 731.2L126.5 736.2L122.6 739.1L119.8 742.2L115.7 745.3L114.4 748.6L115.1 749.9L117.1 750.0L121.1 749.8L131.9 747.8L145.5 747.8L148.9 748.6L150.9 750.3L152.1 754.0L152.9 762.1L152.8 766.2L151.8 768.9L149.5 770.6L146.8 770.4L142.8 768.8L140.1 768.4L138.3 768.9L133.3 772.2L130.6 772.5L125.2 772.1L123.8 772.5L122.5 773.7L119.8 778.0L117.1 779.3L113.0 779.6L106.2 778.7L103.5 779.3L102.2 780.4L99.5 784.7L96.8 786.0L92.7 786.3L85.9 785.4L83.2 786.0L81.9 787.2L79.2 791.5L76.5 792.8L72.4 793.1L64.3 792.1L62.1 793.2L58.9 797.7L56.2 799.4L52.1 799.9L42.6 799.7L42.6 869.0ZM246.0 743.2L244.2 741.8L243.7 740.4L244.6 732.3L242.9 725.6L243.3 713.4L244.4 710.7L246.9 708.1L250.4 706.6L253.7 706.6L259.1 708.5L261.8 711.2L262.7 714.7L262.5 725.6L261.4 728.3L255.8 732.3L255.2 735.0L255.8 740.4L255.1 742.3L253.7 743.4L251.0 744.0ZM157.1 580.8L156.7 579.5L157.6 578.1L159.0 579.3L159.1 580.8L157.6 581.6ZM110.3 756.8L111.6 756.2L113.0 754.3L113.4 752.6L113.0 750.9L108.9 751.2L107.4 752.6L107.2 754.0L107.6 755.3L108.9 756.5ZM264.5 651.4L268.6 651.0L271.3 649.3L273.1 647.1L274.2 643.0L274.0 639.0L272.6 630.9L272.6 617.3L270.9 611.9L267.2 606.5L262.7 602.5L257.8 599.8L251.0 598.2L244.2 597.9L238.8 598.4L233.4 600.0L228.0 603.2L222.6 607.5L219.4 611.9L218.4 616.0L219.1 620.0L220.9 622.8L229.3 628.6L231.2 630.9L234.3 636.3L236.1 638.1L237.8 639.0L240.2 639.4L248.3 638.7L252.4 639.2L255.5 641.7L260.5 649.1L261.8 650.2ZM318.6 625.5L320.0 625.9L326.8 625.9L326.8 605.2L320.0 605.2L317.3 603.3L314.6 602.4L311.9 602.4L309.2 603.2L306.5 605.2L304.6 609.2L304.5 613.3L305.7 617.3L307.6 620.0L310.5 622.3ZM50.8 613.6L53.5 614.1L57.5 614.1L64.3 612.6L69.7 609.9L77.8 604.1L81.2 599.8L82.4 595.7L82.2 591.6L80.2 587.6L76.5 584.5L67.6 580.8L60.2 576.5L57.5 575.5L53.5 575.5L49.4 578.1L42.6 578.1L42.6 613.1L49.4 613.1Z"/>
<path fill="#4b9c8a" d="M44.0 869.0L140.4 869.0L140.4 862.2L139.6 859.5L140.4 855.4L141.4 854.0L145.5 850.9L149.4 846.0L153.2 843.3L153.9 841.9L153.8 836.5L154.5 833.8L159.0 830.4L161.7 826.9L165.8 823.6L168.5 820.3L173.9 816.8L174.9 814.9L174.7 809.4L175.6 806.7L179.3 804.0L183.3 799.4L186.4 797.3L190.1 792.6L191.5 791.8L194.2 791.1L202.3 791.5L205.0 791.1L207.5 789.1L210.3 785.1L211.8 784.2L214.5 783.9L230.7 784.7L234.8 784.0L237.4 782.4L237.8 781.0L237.5 779.7L235.3 777.0L233.4 775.6L230.7 774.8L225.3 775.3L223.9 774.4L222.2 768.9L214.5 769.6L211.7 768.9L208.7 764.8L205.0 762.0L201.7 758.0L197.0 754.0L196.2 748.6L191.8 743.2L191.1 740.4L191.7 737.7L192.8 736.1L195.5 734.0L202.3 730.3L204.2 728.3L207.7 722.9L209.1 721.5L211.8 720.0L217.2 719.6L225.3 720.2L228.0 720.8L229.3 721.7L230.7 725.3L232.0 726.9L233.4 726.9L233.7 724.2L232.1 720.2L232.2 718.8L235.2 705.3L237.5 701.2L244.2 695.5L245.6 693.5L246.1 691.7L246.2 689.0L245.5 686.3L244.3 683.6L242.2 680.9L239.0 678.2L236.4 676.9L217.2 669.7L211.8 669.0L200.9 669.9L196.9 668.9L192.8 666.0L190.4 663.3L187.9 659.3L184.7 652.6L182.0 650.2L179.3 649.5L168.5 648.3L164.4 646.6L156.3 642.2L149.5 639.9L134.6 637.4L126.5 635.2L122.5 634.6L118.4 635.2L114.3 638.0L111.8 641.7L107.6 650.5L104.6 655.2L99.5 660.9L92.7 665.7L75.1 673.4L68.3 675.5L49.4 678.4L42.6 678.4L42.6 786.5L49.4 786.5L53.1 783.7L54.1 782.4L54.2 779.7L52.8 775.6L53.2 774.3L54.8 773.3L58.9 771.9L60.2 770.7L64.1 760.7L63.6 756.7L64.0 755.3L65.6 755.0L69.7 756.2L71.6 755.3L73.8 751.0L78.2 748.6L81.1 744.5L84.6 741.7L87.3 737.8L91.4 735.0L93.8 731.0L98.1 728.4L100.8 724.1L105.0 721.5L107.6 717.1L112.4 714.7L113.3 713.4L114.7 708.0L115.8 706.6L122.5 703.8L129.2 703.1L133.3 703.8L136.1 705.3L138.2 708.0L141.2 714.7L144.1 719.8L150.9 729.2L153.6 731.6L161.7 736.0L164.2 739.1L165.0 741.8L165.0 744.5L162.9 755.3L162.7 760.7L163.8 777.0L165.6 789.1L164.7 794.6L163.8 795.9L161.7 797.6L159.0 798.4L150.9 798.6L149.0 800.0L146.8 803.6L145.5 804.8L144.1 805.3L137.2 805.4L135.4 806.7L133.3 810.3L131.9 811.6L130.6 812.0L123.7 812.1L121.9 813.5L119.8 817.1L118.4 818.3L117.1 818.8L110.3 818.8L108.4 820.3L106.2 823.9L104.9 825.1L103.5 825.6L96.8 825.6L94.8 827.0L92.7 830.6L91.3 831.9L90.0 832.3L83.2 832.4L81.3 833.8L79.2 837.4L77.8 838.6L76.5 839.1L69.7 839.1L67.7 840.6L65.6 844.1L64.3 845.4L61.6 846.1L56.0 846.0L53.5 846.8L49.4 853.0L42.6 853.0L42.6 869.0ZM70.9 744.5L71.0 742.9L72.4 742.3L72.9 743.2L72.4 744.9L71.0 745.0ZM291.6 675.1L292.9 674.9L293.4 674.2L292.9 672.8L291.6 672.8L290.9 674.2ZM118.4 591.9L125.2 592.3L130.6 591.6L133.9 590.3L135.6 588.9L136.5 587.6L136.3 586.2L133.8 584.9L129.2 584.6L113.0 585.0L110.6 586.2L110.4 587.6L111.1 588.9L112.9 590.3Z"/>
<path fill="#276050" d="M44.0 784.1L49.4 784.1L49.8 783.7L51.6 781.0L50.8 775.6L51.5 772.9L57.1 770.2L58.4 768.9L60.4 762.1L59.8 756.7L60.1 754.0L61.6 752.3L66.0 749.9L67.2 747.2L67.3 743.2L67.9 740.4L69.1 739.1L73.3 736.4L74.3 735.0L74.7 733.7L74.2 728.3L74.5 726.9L75.6 725.6L79.8 722.9L82.1 718.8L88.0 712.0L92.2 709.3L95.4 704.8L99.2 702.6L100.4 701.2L102.0 693.1L103.5 691.1L106.2 689.8L110.3 689.6L113.0 690.4L119.1 694.5L122.4 695.8L126.5 696.2L130.6 695.6L133.3 694.4L135.6 691.7L138.7 680.9L140.1 679.4L142.8 678.5L146.8 678.4L157.6 679.4L167.1 678.7L171.2 679.0L175.8 680.9L186.1 687.0L190.1 688.4L192.8 688.7L195.5 688.2L198.2 686.3L199.5 683.6L199.2 680.9L188.8 670.0L180.6 659.3L177.0 656.6L173.9 655.6L163.1 653.8L160.3 652.4L154.6 647.1L152.2 645.7L148.2 644.1L142.8 643.2L131.9 642.8L123.8 640.9L121.1 640.7L118.4 641.4L115.7 643.5L108.9 655.5L104.8 660.6L99.5 665.3L94.0 668.6L79.2 676.0L72.9 678.2L49.4 681.7L42.6 681.7L42.6 784.1Z"/>
<path fill="#1b4434" d="M44.0 781.0L49.4 781.0L49.7 778.3L49.4 774.3L42.6 774.3L42.6 781.0ZM50.8 770.5L54.8 769.5L57.0 767.5L57.8 764.8L57.1 756.7L57.7 752.6L58.9 750.9L62.9 748.9L64.6 747.2L65.1 739.1L66.0 737.7L70.5 735.0L71.6 733.7L71.9 732.3L71.8 725.6L72.6 724.2L77.8 720.9L82.0 713.4L82.0 710.7L80.8 708.0L80.7 706.6L81.4 705.3L83.2 704.1L85.9 703.4L86.8 702.6L88.2 698.5L90.0 697.3L91.3 697.2L94.0 697.8L95.4 697.6L95.4 690.4L96.8 686.3L99.5 683.8L102.2 682.5L114.3 680.9L119.8 679.1L121.7 676.9L123.6 672.8L125.5 670.1L127.9 667.9L130.6 666.4L134.6 666.2L144.1 667.5L148.2 666.2L150.3 663.3L150.8 659.3L150.4 655.2L149.5 652.9L148.2 651.1L145.5 649.4L142.8 648.8L131.9 649.6L123.8 647.7L121.1 647.6L119.8 648.1L117.1 650.6L111.0 660.6L104.9 666.5L96.8 672.1L84.6 679.3L79.2 681.5L75.1 682.4L56.2 684.2L52.4 685.0L49.4 686.3L42.6 686.3L42.6 693.1L49.4 693.1L49.8 695.8L49.4 699.9L42.6 699.9L42.6 706.7L49.4 706.7L49.4 709.3L49.4 713.3L42.6 713.3L42.6 720.1L49.4 720.1L49.4 722.9L49.4 726.7L42.6 726.7L42.6 740.1L49.4 740.1L49.4 739.1L50.8 738.6L52.1 739.6L53.5 741.4L54.1 744.5L53.3 747.2L50.8 748.4L49.4 747.0L42.6 747.0L42.6 754.0L49.4 754.0L49.4 758.0L49.4 760.7L42.6 760.7L42.6 767.5L49.4 767.5L49.9 770.2Z"/>
</g>
<path fill="none" stroke="#000" stroke-width="1" stroke-linejoin="round" d="M49.4 691.3L58.1 692.5L71.3 691.3L92.3 691.0L97.6 695.7L99.3 700.4L105.4 702.7L113.0 709.2L111.2 712.3L115.1 714.1L120.0 721.3L124.4 721.8L129.6 719.6L134.0 717.8L135.1 719.4L135.8 731.2L137.6 741.4L139.9 751.7L144.3 759.0L147.2 763.4L148.8 769.2L150.5 774.2L153.4 780.9L157.7 791.1L161.4 802.0L167.7 807.9L173.1 802.0L178.2 800.6L177.4 798.4L181.1 792.5L184.0 789.6L184.3 780.9L186.2 774.3L186.2 764.8L185.5 757.5L188.4 753.8L193.0 750.7L198.9 747.4L200.3 744.4L206.9 740.1L214.2 734.3L223.0 727.0L231.7 721.9L232.0 716.8L234.6 715.3L244.9 715.0L246.0 713.1L249.2 713.9L252.2 714.2L253.6 713.1L255.8 710.2L256.2 708.0L260.9 708.0L264.6 711.0L266.0 715.3L269.7 722.6L275.5 728.5L277.0 730.7L281.4 738.6L282.1 744.4L280.5 750.2L281.0 753.7L285.0 755.8L290.0 754.9L300.5 747.6L303.0 752.0L304.7 759.5L307.2 769.6L310.2 774.7L310.2 780.5L311.4 784.7L310.2 788.9L308.9 797.3L307.6 803.2L308.1 809.1L311.0 806.6L315.2 810.8L318.6 815.8L320.6 818.7M320.6 779.2L317.7 784.7L314.8 793.1L314.8 799.4L319.4 799.7L320.6 800.7M185.5 795.7L183.3 801.3L182.3 805.7L183.3 815.9L186.2 821.6L192.8 819.5L196.4 815.2L196.4 809.3L194.2 804.2L185.5 795.7ZM320.6 842.3L312.8 836.0L307.5 832.0L302.9 826.8L294.4 826.1L287.8 825.5L289.8 828.8L294.4 834.7L300.3 842.5L306.9 851.7L311.5 857.0L314.5 862.7"/>
<path d="M150.88 524.00V862.20M252.35 524.00V862.20M49.40 760.74H320.10M49.40 659.28H320.10M49.40 557.82H320.10" stroke="#333" stroke-width="1" stroke-dasharray="1.1 1.1" fill="none"/>
<path d="M109.6 524.3h0M124.3 524.3h0M139.1 524.3h0M153.9 524.3h0M168.7 524.3h0M183.5 524.3h0M213.1 524.3h0M227.9 524.3h0M242.7 524.3h0M257.5 524.3h0M272.2 524.3h0M287.0 524.3h0M301.8 524.3h0M316.6 524.3h0M131.7 539.1h0M146.5 539.1h0M161.3 539.1h0M176.1 539.1h0M190.9 539.1h0M205.7 539.1h0M220.5 539.1h0M235.3 539.1h0M250.1 539.1h0M264.9 539.1h0M309.2 539.1h0M124.3 553.9h0M139.1 553.9h0M153.9 553.9h0M168.7 553.9h0M183.5 553.9h0M198.3 553.9h0M213.1 553.9h0M227.9 553.9h0M242.7 553.9h0M257.5 553.9h0M272.2 553.9h0M287.0 553.9h0M301.8 553.9h0M72.6 568.6h0M146.5 568.6h0M161.3 568.6h0M176.1 568.6h0M190.9 568.6h0M205.7 568.6h0M220.5 568.6h0M235.3 568.6h0M250.1 568.6h0M264.9 568.6h0M279.6 568.6h0M294.4 568.6h0M50.4 583.4h0M65.2 583.4h0M80.0 583.4h0M109.6 583.4h0M124.3 583.4h0M139.1 583.4h0M153.9 583.4h0M168.7 583.4h0M183.5 583.4h0M198.3 583.4h0M213.1 583.4h0M227.9 583.4h0M242.7 583.4h0M257.5 583.4h0M272.2 583.4h0M57.8 598.2h0M72.6 598.2h0M102.2 598.2h0M117.0 598.2h0M131.7 598.2h0M146.5 598.2h0M161.3 598.2h0M176.1 598.2h0M190.9 598.2h0M235.3 598.2h0M250.1 598.2h0M264.9 598.2h0M279.6 598.2h0M294.4 598.2h0M309.2 598.2h0M50.4 613.0h0M65.2 613.0h0M80.0 613.0h0M139.1 613.0h0M153.9 613.0h0M168.7 613.0h0M213.1 613.0h0M227.9 613.0h0M242.7 613.0h0M257.5 613.0h0M272.2 613.0h0M287.0 613.0h0M301.8 613.0h0M316.6 613.0h0M117.0 627.8h0M131.7 627.8h0M146.5 627.8h0M161.3 627.8h0M176.1 627.8h0M190.9 627.8h0M205.7 627.8h0M220.5 627.8h0M235.3 627.8h0M250.1 627.8h0M264.9 627.8h0M279.6 627.8h0M294.4 627.8h0M309.2 627.8h0M109.6 642.5h0M124.3 642.5h0M139.1 642.5h0M153.9 642.5h0M168.7 642.5h0M183.5 642.5h0M198.3 642.5h0M227.9 642.5h0M242.7 642.5h0M257.5 642.5h0M272.2 642.5h0M287.0 642.5h0M301.8 642.5h0M316.6 642.5h0M102.2 657.3h0M117.0 657.3h0M131.7 657.3h0M146.5 657.3h0M161.3 657.3h0M176.1 657.3h0M190.9 657.3h0M205.7 657.3h0M220.5 657.3h0M235.3 657.3h0M250.1 657.3h0M264.9 657.3h0M279.6 657.3h0M294.4 657.3h0M309.2 657.3h0M50.4 672.1h0M80.0 672.1h0M94.8 672.1h0M109.6 672.1h0M124.3 672.1h0M139.1 672.1h0M153.9 672.1h0M168.7 672.1h0M183.5 672.1h0M198.3 672.1h0M213.1 672.1h0M227.9 672.1h0M242.7 672.1h0M257.5 672.1h0M272.2 672.1h0M287.0 672.1h0M301.8 672.1h0M316.6 672.1h0M57.8 686.9h0M72.6 686.9h0M87.4 686.9h0M102.2 686.9h0M117.0 686.9h0M131.7 686.9h0M146.5 686.9h0M161.3 686.9h0M176.1 686.9h0M190.9 686.9h0M205.7 686.9h0M220.5 686.9h0M235.3 686.9h0M250.1 686.9h0M264.9 686.9h0M279.6 686.9h0M294.4 686.9h0M309.2 686.9h0M50.4 701.7h0M65.2 701.7h0M94.8 701.7h0M109.6 701.7h0M124.3 701.7h0M139.1 701.7h0M153.9 701.7h0M168.7 701.7h0M183.5 701.7h0M198.3 701.7h0M213.1 701.7h0M227.9 701.7h0M242.7 701.7h0M257.5 701.7h0M272.2 701.7h0M287.0 701.7h0M301.8 701.7h0M57.8 716.4h0M117.0 716.4h0M131.7 716.4h0M146.5 716.4h0M161.3 716.4h0M176.1 716.4h0M190.9 716.4h0M205.7 716.4h0M220.5 716.4h0M235.3 716.4h0M250.1 716.4h0M264.9 716.4h0M279.6 716.4h0M294.4 716.4h0M309.2 716.4h0M139.1 731.2h0M153.9 731.2h0M168.7 731.2h0M183.5 731.2h0M198.3 731.2h0M213.1 731.2h0M227.9 731.2h0M242.7 731.2h0M257.5 731.2h0M272.2 731.2h0M287.0 731.2h0M301.8 731.2h0M316.6 731.2h0M131.7 746.0h0M146.5 746.0h0M161.3 746.0h0M176.1 746.0h0M190.9 746.0h0M205.7 746.0h0M220.5 746.0h0M235.3 746.0h0M250.1 746.0h0M264.9 746.0h0M279.6 746.0h0M294.4 746.0h0M309.2 746.0h0M124.3 760.8h0M139.1 760.8h0M153.9 760.8h0M168.7 760.8h0M183.5 760.8h0M198.3 760.8h0M213.1 760.8h0M227.9 760.8h0M242.7 760.8h0M257.5 760.8h0M272.2 760.8h0M287.0 760.8h0M301.8 760.8h0M316.6 760.8h0M102.2 775.6h0M117.0 775.6h0M131.7 775.6h0M146.5 775.6h0M161.3 775.6h0M176.1 775.6h0M190.9 775.6h0M205.7 775.6h0M220.5 775.6h0M235.3 775.6h0M250.1 775.6h0M264.9 775.6h0M279.6 775.6h0M294.4 775.6h0M309.2 775.6h0M80.0 790.3h0M94.8 790.3h0M109.6 790.3h0M124.3 790.3h0M139.1 790.3h0M153.9 790.3h0M168.7 790.3h0M183.5 790.3h0M198.3 790.3h0M213.1 790.3h0M227.9 790.3h0M242.7 790.3h0M257.5 790.3h0M272.2 790.3h0M287.0 790.3h0M301.8 790.3h0M316.6 790.3h0M87.4 805.1h0M102.2 805.1h0M117.0 805.1h0M131.7 805.1h0M146.5 805.1h0M161.3 805.1h0M176.1 805.1h0M190.9 805.1h0M205.7 805.1h0M220.5 805.1h0M235.3 805.1h0M250.1 805.1h0M264.9 805.1h0M279.6 805.1h0M294.4 805.1h0M309.2 805.1h0M80.0 819.9h0M94.8 819.9h0M109.6 819.9h0M124.3 819.9h0M139.1 819.9h0M153.9 819.9h0M168.7 819.9h0M183.5 819.9h0M198.3 819.9h0M213.1 819.9h0M227.9 819.9h0M242.7 819.9h0M257.5 819.9h0M272.2 819.9h0M287.0 819.9h0M301.8 819.9h0M316.6 819.9h0M117.0 834.7h0M131.7 834.7h0M146.5 834.7h0M161.3 834.7h0M176.1 834.7h0M190.9 834.7h0M205.7 834.7h0M220.5 834.7h0M235.3 834.7h0M250.1 834.7h0M264.9 834.7h0M279.6 834.7h0M294.4 834.7h0M309.2 834.7h0M109.6 849.5h0M124.3 849.5h0M139.1 849.5h0M153.9 849.5h0M168.7 849.5h0M183.5 849.5h0M198.3 849.5h0M213.1 849.5h0M227.9 849.5h0M242.7 849.5h0M257.5 849.5h0M272.2 849.5h0M287.0 849.5h0M301.8 849.5h0M316.6 849.5h0" stroke="#000" stroke-width="4.40" stroke-linecap="round" fill="none"/>
</g>
<rect x="49.40" y="524.00" width="270.70" height="338.20" fill="none" stroke="#000" stroke-width="1"/>
<path d="M49.40 862.20v4.6M150.88 862.20v4.6M252.35 862.20v4.6M49.40 557.82h-4.6M49.40 659.28h-4.6M49.40 760.74h-4.6M49.40 862.20h-4.6" stroke="#222" stroke-width="0.9" fill="none"/>
<text transform="translate(1.24 564.32) scale(1.0900 1)" font-size="16.20">45°N</text>
<text transform="translate(1.24 665.78) scale(1.0900 1)" font-size="16.20">30°N</text>
<text transform="translate(1.24 767.24) scale(1.0900 1)" font-size="16.20">15°N</text>
<text transform="translate(23.48 868.70) scale(1.0900 1)" font-size="16.20">0°</text>
<text transform="translate(29.76 882.70) scale(1.0900 1)" font-size="16.20">60°E</text>
<text transform="translate(131.24 882.70) scale(1.0900 1)" font-size="16.20">75°E</text>
<text transform="translate(232.71 882.70) scale(1.0900 1)" font-size="16.20">90°E</text>
<text transform="translate(135.07 516.50) scale(1.2286 1)" font-size="18.00">(c)</text>
<text transform="translate(165.10 516.50) scale(1.0389 1)" font-size="18.00">ERA5 Q</text>
<g clip-path="url(#fd)">
<g clip-path="url(#ld)">
<rect x="404.8" y="522.0" width="280.3" height="342.2" fill="#daf1ec"/>
<path fill="#8fd8c5" d="M401.3 872.9L690.0 872.9L690.0 513.7L558.8 513.7L558.8 520.6L560.0 522.0L561.3 524.8L561.4 528.9L560.5 531.7L558.8 534.4L556.0 536.9L553.2 538.4L539.4 542.4L536.4 544.1L529.8 549.2L527.0 550.4L524.2 550.8L521.5 550.5L518.7 549.3L512.4 542.7L509.0 540.8L503.5 540.0L499.4 541.2L497.6 542.7L496.4 545.5L496.1 548.3L496.5 551.0L498.3 555.2L502.9 560.7L503.6 563.5L502.4 566.2L498.2 571.7L496.8 574.5L495.8 580.0L495.8 585.6L496.6 590.5L498.4 595.2L500.7 599.5L506.3 607.7L506.8 609.0L506.8 610.4L506.3 611.2L504.9 612.2L502.1 612.8L493.8 613.1L489.7 613.8L485.5 615.7L475.9 621.3L462.1 625.0L459.3 627.2L454.6 633.9L452.4 636.1L449.6 637.6L440.0 640.7L437.0 642.2L434.4 645.0L431.8 650.5L428.9 652.3L424.8 653.3L417.9 653.7L410.9 653.4L406.8 652.8L399.9 652.8L399.9 872.9ZM594.3 540.0L593.5 538.6L593.3 535.8L594.1 528.9L596.1 525.2L599.1 523.4L612.6 520.7L615.4 520.7L620.3 522.0L623.4 523.4L626.9 526.2L628.6 528.9L628.9 530.3L628.5 533.1L626.8 535.8L623.7 538.3L619.7 540.0L614.0 541.0L605.7 541.3L597.4 541.1ZM462.1 589.7L463.4 589.5L465.0 588.3L466.2 585.6L466.6 582.8L466.2 579.5L465.1 577.3L463.4 576.0L462.1 575.9L460.7 576.5L459.3 578.0L458.5 580.0L458.1 582.8L459.3 587.5L460.7 589.1ZM401.3 548.3L406.8 548.3L409.6 545.1L412.3 543.3L427.5 538.7L432.8 535.8L435.8 533.1L441.6 526.2L448.2 520.6L448.2 513.7L399.9 513.7L399.9 548.3ZM474.5 524.8L478.6 525.0L481.4 523.8L482.8 522.5L483.9 520.6L483.9 513.7L468.3 513.7L468.3 520.6L471.7 523.7Z"/>
<path fill="#4b9c8a" d="M401.3 872.9L499.7 872.9L499.7 866.0L498.9 863.2L499.7 859.1L500.7 857.6L504.9 854.5L508.9 849.4L512.8 846.7L513.5 845.3L513.4 839.8L514.1 837.0L518.7 833.6L521.5 830.0L525.6 826.6L528.5 823.2L533.0 820.4L534.4 819.0L535.0 816.3L534.8 812.1L535.7 809.4L539.4 806.5L543.6 801.8L546.6 799.7L550.5 795.0L551.9 794.1L554.6 793.4L562.9 793.8L565.7 793.4L568.2 791.4L571.1 787.3L572.6 786.5L575.3 786.1L598.8 786.7L601.6 785.9L603.0 784.5L603.9 780.3L603.2 762.4L604.4 760.3L609.7 756.9L610.6 755.5L611.0 752.7L610.8 750.0L610.0 747.2L606.0 741.7L606.6 733.4L605.7 726.5L606.0 722.3L605.0 716.8L605.1 715.4L605.9 714.0L609.8 711.3L615.4 708.8L620.9 707.0L626.5 706.7L638.9 708.4L641.7 708.2L644.4 707.3L646.6 705.7L648.3 703.0L648.7 700.2L647.2 696.5L645.4 694.7L638.9 690.3L633.2 683.6L630.6 681.3L622.3 677.3L620.9 675.6L617.4 668.4L614.0 665.4L609.9 663.9L605.7 663.2L600.2 663.0L590.5 663.6L586.4 663.2L565.7 656.6L562.9 654.9L561.4 653.2L560.3 650.5L559.4 646.3L557.6 643.6L555.1 642.2L547.7 640.1L543.6 638.1L540.3 635.3L535.0 628.4L531.9 625.6L525.6 623.2L511.8 620.9L498.0 619.3L491.1 619.5L485.5 621.3L469.0 629.8L464.8 633.5L459.3 642.7L453.4 649.1L448.2 658.8L446.7 660.2L444.1 661.4L438.6 662.3L417.9 663.4L406.8 665.7L399.9 665.7L399.9 802.3L409.6 802.6L413.7 802.2L416.5 800.7L418.8 796.9L420.6 795.3L423.4 794.7L431.7 795.5L435.8 794.9L437.2 794.0L440.0 789.6L441.3 788.4L444.1 787.8L452.4 788.6L456.5 788.0L457.9 787.2L460.7 782.7L462.1 781.4L464.8 780.8L471.7 781.7L475.9 781.5L478.7 780.3L481.4 775.8L482.8 774.5L485.5 774.1L492.5 774.5L499.4 772.2L510.4 773.3L517.3 771.7L520.1 774.6L522.9 779.0L525.0 785.9L525.7 791.4L524.5 796.9L523.6 798.3L521.5 800.1L518.7 801.0L510.4 801.0L508.5 802.5L506.3 806.4L504.9 807.6L503.5 808.0L496.5 808.0L494.7 809.4L492.5 813.4L491.1 814.5L489.7 814.9L482.7 814.9L480.9 816.3L478.6 820.3L477.3 821.4L475.9 821.8L468.9 821.8L467.1 823.2L464.8 827.2L463.4 828.3L462.1 828.8L455.2 828.7L453.3 830.1L451.0 834.1L449.6 835.2L448.2 835.7L441.3 835.6L439.4 837.0L437.2 841.0L435.8 842.2L434.4 842.6L427.5 842.5L425.6 843.9L423.4 847.8L422.0 849.0L419.2 849.7L412.3 849.6L410.5 850.8L408.4 854.9L406.8 856.7L399.9 856.7L399.9 872.9ZM515.8 767.9L512.2 763.8L510.6 761.0L509.4 755.5L509.9 752.7L511.8 749.6L514.6 748.1L517.3 747.8L521.5 749.2L523.7 751.3L525.0 754.1L525.3 758.2L524.2 762.5L521.5 766.7L518.7 769.1L517.3 769.3ZM409.6 831.9L411.4 831.5L412.3 830.1L412.1 828.7L410.9 827.4L409.6 827.2L408.2 828.0L407.8 830.1L408.6 831.5Z"/>
<path fill="#276050" d="M401.3 786.5L406.8 786.5L407.5 785.9L409.0 783.1L408.8 777.6L409.6 775.2L414.9 772.1L416.2 770.7L417.1 767.9L416.0 759.6L416.5 755.5L417.9 753.4L422.0 750.8L423.4 749.2L423.9 747.2L424.1 741.7L424.8 740.3L430.4 736.1L431.2 733.4L430.9 727.9L431.6 726.5L437.0 722.3L439.7 718.2L442.7 715.4L445.5 711.6L449.6 708.7L452.8 704.4L456.9 701.6L457.9 700.2L459.3 695.5L460.7 693.9L463.4 693.2L471.7 693.8L475.9 693.2L479.2 690.5L483.5 683.6L485.5 681.5L489.7 679.7L493.8 680.5L496.0 682.3L497.4 685.0L497.8 689.2L496.8 700.2L497.6 703.0L499.4 705.2L503.5 707.2L515.9 707.2L520.1 708.2L522.8 710.6L528.1 718.2L535.3 724.8L540.8 731.9L545.0 734.3L549.1 734.4L551.9 733.7L554.6 732.1L563.2 723.7L565.9 722.3L569.8 721.3L587.8 721.5L589.4 722.3L591.9 727.2L593.3 728.3L594.7 728.2L595.3 725.1L593.4 718.2L594.5 714.0L597.3 711.3L608.9 705.7L612.2 703.0L614.0 700.2L614.4 698.8L614.1 696.1L609.9 686.3L609.6 683.6L609.9 676.7L609.4 674.0L607.2 671.2L603.0 669.5L598.8 669.2L587.8 669.7L585.0 669.1L574.0 664.8L560.1 662.9L554.6 661.1L551.1 658.8L543.6 650.5L535.8 643.6L527.0 633.1L522.8 630.3L517.3 627.9L507.6 624.9L496.6 623.3L489.7 624.0L484.2 626.2L473.8 632.5L470.3 635.6L467.8 639.4L463.4 648.9L458.3 656.0L454.5 662.9L451.0 666.3L446.9 667.8L434.4 668.6L427.5 669.7L423.3 671.2L415.1 676.1L410.9 677.8L406.8 678.6L399.9 678.6L399.9 786.5ZM598.8 735.3L600.2 735.6L600.6 734.8L600.2 733.7L598.7 733.4Z"/>
<path fill="#1b4434" d="M542.2 714.1L545.0 714.0L547.7 712.0L550.5 707.3L552.8 700.2L554.6 696.3L557.4 693.4L560.1 692.3L564.3 691.9L572.6 692.4L579.5 691.9L583.6 692.4L586.4 693.5L587.8 694.6L594.7 703.2L596.1 703.9L598.8 704.4L601.6 703.9L603.6 703.0L606.4 700.2L607.0 698.8L607.1 696.1L604.8 689.2L603.2 682.3L601.9 679.5L600.2 677.6L597.4 676.4L587.8 676.5L585.0 675.9L576.7 670.9L572.6 669.1L554.6 668.2L547.7 666.5L543.6 663.6L535.3 654.9L530.3 650.5L518.5 636.7L513.1 632.5L506.3 628.9L499.4 627.7L493.8 627.5L489.7 628.0L485.9 629.8L475.9 637.3L473.0 640.8L471.5 645.0L471.5 649.1L473.1 651.7L475.9 652.8L480.0 653.1L491.1 650.5L496.6 649.9L500.7 650.3L504.9 651.7L507.6 654.1L510.0 657.4L514.3 668.4L517.3 672.6L521.2 675.4L531.5 679.5L535.5 682.3L537.4 685.0L538.3 689.2L536.5 703.0L536.6 708.5L538.0 711.5L539.4 712.8Z"/>
</g>
<path fill="none" stroke="#000" stroke-width="1" stroke-linejoin="round" d="M406.8 691.5L415.7 692.7L429.2 691.5L450.6 691.2L456.0 696.0L457.8 700.8L464.0 703.1L471.7 709.7L469.9 712.9L473.9 714.7L478.9 722.1L483.4 722.6L488.7 720.3L493.2 718.5L494.3 720.1L495.0 732.2L496.9 742.7L499.2 753.2L503.7 760.6L506.7 765.1L508.3 771.0L510.0 776.1L513.0 783.0L517.4 793.4L521.2 804.5L527.6 810.5L533.1 804.5L538.3 803.1L537.5 800.8L541.3 794.8L544.2 791.8L544.5 783.0L546.5 776.2L546.5 766.5L545.8 759.1L548.7 755.3L553.4 752.2L559.4 748.8L560.9 745.7L567.6 741.4L575.1 735.3L584.1 727.9L592.9 722.7L593.2 717.5L595.9 716.0L606.4 715.7L607.5 713.7L610.8 714.5L613.9 714.8L615.3 713.7L617.5 710.8L618.0 708.5L622.8 708.5L626.5 711.6L628.0 716.0L631.7 723.4L637.7 729.4L639.2 731.7L643.7 739.8L644.4 745.7L642.8 751.7L643.3 755.2L647.4 757.4L652.5 756.5L663.2 749.0L665.7 753.5L667.5 761.1L670.0 771.4L673.1 776.6L673.1 782.6L674.3 786.8L673.1 791.1L671.8 799.7L670.4 805.7L670.9 811.7L673.9 809.2L678.2 813.5L681.7 818.6L683.7 821.5M683.7 781.2L680.8 786.8L677.8 795.4L677.8 801.8L682.5 802.1L683.7 803.2M545.8 798.1L543.5 803.8L542.5 808.3L543.5 818.7L546.5 824.6L553.2 822.3L556.9 818.0L556.9 811.9L554.7 806.7L545.8 798.1ZM683.7 845.7L675.7 839.3L670.3 835.2L665.6 829.9L657.0 829.2L650.2 828.6L652.3 831.9L657.0 837.9L663.0 845.9L669.7 855.3L674.4 860.7L677.5 866.5"/>
<path d="M510.41 524.00V862.20M614.02 524.00V862.20M406.80 762.39H683.10M406.80 658.77H683.10M406.80 555.16H683.10" stroke="#333" stroke-width="1" stroke-dasharray="1.1 1.1" fill="none"/>
<path d="M420.1 524.3h0M434.9 524.3h0M449.7 524.3h0M464.5 524.3h0M479.3 524.3h0M494.1 524.3h0M508.9 524.3h0M523.7 524.3h0M538.5 524.3h0M553.3 524.3h0M568.0 524.3h0M582.8 524.3h0M597.6 524.3h0M612.4 524.3h0M627.2 524.3h0M642.0 524.3h0M656.8 524.3h0M671.6 524.3h0M412.8 539.1h0M427.5 539.1h0M442.3 539.1h0M457.1 539.1h0M471.9 539.1h0M486.7 539.1h0M501.5 539.1h0M516.3 539.1h0M531.1 539.1h0M545.9 539.1h0M560.7 539.1h0M575.4 539.1h0M590.2 539.1h0M605.0 539.1h0M619.8 539.1h0M634.6 539.1h0M649.4 539.1h0M664.2 539.1h0M679.0 539.1h0M420.1 553.9h0M434.9 553.9h0M449.7 553.9h0M464.5 553.9h0M479.3 553.9h0M494.1 553.9h0M508.9 553.9h0M523.7 553.9h0M538.5 553.9h0M553.3 553.9h0M568.0 553.9h0M582.8 553.9h0M597.6 553.9h0M612.4 553.9h0M627.2 553.9h0M642.0 553.9h0M656.8 553.9h0M671.6 553.9h0M412.8 568.6h0M427.5 568.6h0M442.3 568.6h0M457.1 568.6h0M471.9 568.6h0M486.7 568.6h0M501.5 568.6h0M516.3 568.6h0M531.1 568.6h0M545.9 568.6h0M560.7 568.6h0M575.4 568.6h0M590.2 568.6h0M605.0 568.6h0M619.8 568.6h0M634.6 568.6h0M649.4 568.6h0M664.2 568.6h0M679.0 568.6h0M420.1 583.4h0M434.9 583.4h0M449.7 583.4h0M464.5 583.4h0M479.3 583.4h0M494.1 583.4h0M508.9 583.4h0M523.7 583.4h0M538.5 583.4h0M553.3 583.4h0M568.0 583.4h0M582.8 583.4h0M597.6 583.4h0M612.4 583.4h0M627.2 583.4h0M642.0 583.4h0M656.8 583.4h0M671.6 583.4h0M412.8 598.2h0M427.5 598.2h0M442.3 598.2h0M457.1 598.2h0M471.9 598.2h0M486.7 598.2h0M501.5 598.2h0M516.3 598.2h0M531.1 598.2h0M545.9 598.2h0M560.7 598.2h0M575.4 598.2h0M590.2 598.2h0M605.0 598.2h0M619.8 598.2h0M634.6 598.2h0M649.4 598.2h0M664.2 598.2h0M679.0 598.2h0M420.1 613.0h0M434.9 613.0h0M449.7 613.0h0M464.5 613.0h0M479.3 613.0h0M494.1 613.0h0M508.9 613.0h0M523.7 613.0h0M538.5 613.0h0M553.3 613.0h0M568.0 613.0h0M582.8 613.0h0M597.6 613.0h0M612.4 613.0h0M627.2 613.0h0M642.0 613.0h0M656.8 613.0h0M671.6 613.0h0M412.8 627.8h0M427.5 627.8h0M442.3 627.8h0M457.1 627.8h0M471.9 627.8h0M486.7 627.8h0M501.5 627.8h0M516.3 627.8h0M531.1 627.8h0M545.9 627.8h0M560.7 627.8h0M575.4 627.8h0M590.2 627.8h0M605.0 627.8h0M619.8 627.8h0M634.6 627.8h0M649.4 627.8h0M664.2 627.8h0M679.0 627.8h0M420.1 642.5h0M434.9 642.5h0M449.7 642.5h0M464.5 642.5h0M479.3 642.5h0M494.1 642.5h0M508.9 642.5h0M523.7 642.5h0M538.5 642.5h0M553.3 642.5h0M568.0 642.5h0M582.8 642.5h0M597.6 642.5h0M612.4 642.5h0M627.2 642.5h0M642.0 642.5h0M656.8 642.5h0M671.6 642.5h0M412.8 657.3h0M427.5 657.3h0M442.3 657.3h0M457.1 657.3h0M471.9 657.3h0M486.7 657.3h0M501.5 657.3h0M516.3 657.3h0M531.1 657.3h0M545.9 657.3h0M560.7 657.3h0M575.4 657.3h0M590.2 657.3h0M605.0 657.3h0M619.8 657.3h0M634.6 657.3h0M649.4 657.3h0M664.2 657.3h0M679.0 657.3h0M420.1 672.1h0M434.9 672.1h0M449.7 672.1h0M464.5 672.1h0M479.3 672.1h0M494.1 672.1h0M508.9 672.1h0M523.7 672.1h0M538.5 672.1h0M553.3 672.1h0M568.0 672.1h0M582.8 672.1h0M597.6 672.1h0M612.4 672.1h0M627.2 672.1h0M642.0 672.1h0M656.8 672.1h0M671.6 672.1h0M412.8 686.9h0M427.5 686.9h0M442.3 686.9h0M457.1 686.9h0M471.9 686.9h0M486.7 686.9h0M501.5 686.9h0M516.3 686.9h0M531.1 686.9h0M545.9 686.9h0M560.7 686.9h0M575.4 686.9h0M590.2 686.9h0M605.0 686.9h0M619.8 686.9h0M634.6 686.9h0M649.4 686.9h0M664.2 686.9h0M679.0 686.9h0M464.5 701.7h0M479.3 701.7h0M494.1 701.7h0M508.9 701.7h0M523.7 701.7h0M538.5 701.7h0M553.3 701.7h0M568.0 701.7h0M582.8 701.7h0M597.6 701.7h0M612.4 701.7h0M627.2 701.7h0M642.0 701.7h0M656.8 701.7h0M671.6 701.7h0M471.9 716.4h0M486.7 716.4h0M501.5 716.4h0M516.3 716.4h0M531.1 716.4h0M545.9 716.4h0M560.7 716.4h0M575.4 716.4h0M590.2 716.4h0M619.8 716.4h0M634.6 716.4h0M649.4 716.4h0M664.2 716.4h0M679.0 716.4h0M494.1 731.2h0M508.9 731.2h0M523.7 731.2h0M538.5 731.2h0M553.3 731.2h0M568.0 731.2h0M582.8 731.2h0M642.0 731.2h0M656.8 731.2h0M671.6 731.2h0M501.5 746.0h0M516.3 746.0h0M531.1 746.0h0M545.9 746.0h0M560.7 746.0h0M649.4 746.0h0M664.2 746.0h0M679.0 746.0h0M508.9 760.8h0M523.7 760.8h0M538.5 760.8h0M671.6 760.8h0M516.3 775.6h0M531.1 775.6h0M545.9 775.6h0M679.0 775.6h0M523.7 790.3h0M538.5 790.3h0M671.6 790.3h0M531.1 805.1h0M545.9 805.1h0M679.0 805.1h0M553.3 819.9h0M664.2 834.7h0M671.6 849.5h0" stroke="#000" stroke-width="4.40" stroke-linecap="round" fill="none"/>
</g>
<rect x="406.80" y="524.00" width="276.30" height="338.20" fill="none" stroke="#000" stroke-width="1"/>
<path d="M406.80 862.20v4.6M510.41 862.20v4.6M614.02 862.20v4.6M406.80 555.16h-4.6M406.80 658.77h-4.6M406.80 762.39h-4.6" stroke="#222" stroke-width="0.9" fill="none"/>
<text transform="translate(358.64 561.66) scale(1.0900 1)" font-size="16.20">45°N</text>
<text transform="translate(358.64 665.27) scale(1.0900 1)" font-size="16.20">30°N</text>
<text transform="translate(358.64 768.89) scale(1.0900 1)" font-size="16.20">15°N</text>
<text transform="translate(387.16 882.70) scale(1.0900 1)" font-size="16.20">60°E</text>
<text transform="translate(490.78 882.70) scale(1.0900 1)" font-size="16.20">75°E</text>
<text transform="translate(594.39 882.70) scale(1.0900 1)" font-size="16.20">90°E</text>
<text transform="translate(472.31 516.50) scale(1.1919 1)" font-size="18.00">(d)</text>
<text transform="translate(504.26 516.50) scale(1.0403 1)" font-size="18.00">CESM2-LE Q</text>
<path d="M49.40 399.30L61.70 391.00L61.70 407.60Z" fill="#1a1a1a"/>
<path d="M320.10 399.30L307.80 391.00L307.80 407.60Z" fill="#6a0c23"/>
<rect x="61.65" y="391.00" width="30.86" height="16.60" fill="#3a3a3a"/>
<rect x="92.42" y="391.00" width="30.86" height="16.60" fill="#808080"/>
<rect x="123.18" y="391.00" width="30.86" height="16.60" fill="#bfbfbf"/>
<rect x="153.94" y="391.00" width="30.86" height="16.60" fill="#ececec"/>
<rect x="184.70" y="391.00" width="30.86" height="16.60" fill="#f6e7dc"/>
<rect x="215.46" y="391.00" width="30.86" height="16.60" fill="#e9a587"/>
<rect x="246.22" y="391.00" width="30.86" height="16.60" fill="#cd544a"/>
<rect x="276.98" y="391.00" width="30.86" height="16.60" fill="#931a2c"/>
<path d="M49.40 399.30L61.70 391.00L307.80 391.00L320.10 399.30L307.80 407.60L61.70 407.60Z" fill="none" stroke="#222" stroke-width="0.9"/>
<text transform="translate(77.95 425.90) scale(1.1400 1)" font-size="12.86">−0.3</text>
<text transform="translate(139.55 425.90) scale(1.1400 1)" font-size="12.86">−0.1</text>
<text transform="translate(205.40 425.90) scale(1.1400 1)" font-size="12.86">0.1</text>
<text transform="translate(266.85 425.90) scale(1.1400 1)" font-size="12.86">0.3</text>
<path d="M92.47 407.60v4.6M153.99 407.60v4.6M215.51 407.60v4.6M277.03 407.60v4.6" stroke="#222" stroke-width="0.9" fill="none"/>
<text transform="translate(143.63 445.10) scale(1.0800 1)" font-size="16.20">°C/decade</text>
<path d="M406.80 399.55L419.36 391.20L419.36 407.90Z" fill="#1a1a1a"/>
<path d="M683.10 399.55L670.54 391.20L670.54 407.90Z" fill="#6a0c23"/>
<rect x="419.31" y="391.20" width="31.50" height="16.70" fill="#3a3a3a"/>
<rect x="450.71" y="391.20" width="31.50" height="16.70" fill="#808080"/>
<rect x="482.10" y="391.20" width="31.50" height="16.70" fill="#bfbfbf"/>
<rect x="513.50" y="391.20" width="31.50" height="16.70" fill="#ececec"/>
<rect x="544.90" y="391.20" width="31.50" height="16.70" fill="#f6e7dc"/>
<rect x="576.30" y="391.20" width="31.50" height="16.70" fill="#e9a587"/>
<rect x="607.70" y="391.20" width="31.50" height="16.70" fill="#cd544a"/>
<rect x="639.09" y="391.20" width="31.50" height="16.70" fill="#931a2c"/>
<path d="M406.80 399.55L419.36 391.20L670.54 391.20L683.10 399.55L670.54 407.90L419.36 407.90Z" fill="none" stroke="#222" stroke-width="0.9"/>
<text transform="translate(436.24 425.90) scale(1.1400 1)" font-size="12.86">−0.3</text>
<text transform="translate(499.11 425.90) scale(1.1400 1)" font-size="12.86">−0.1</text>
<text transform="translate(566.23 425.90) scale(1.1400 1)" font-size="12.86">0.1</text>
<text transform="translate(628.95 425.90) scale(1.1400 1)" font-size="12.86">0.3</text>
<path d="M450.76 407.90v4.6M513.55 407.90v4.6M576.35 407.90v4.6M639.14 407.90v4.6" stroke="#222" stroke-width="0.9" fill="none"/>
<text transform="translate(503.83 445.10) scale(1.0800 1)" font-size="16.20">°C/decade</text>
<path d="M49.40 901.50L61.70 893.20L61.70 909.80Z" fill="#563512"/>
<path d="M320.10 901.50L307.80 893.20L307.80 909.80Z" fill="#1b4434"/>
<rect x="61.65" y="893.20" width="30.86" height="16.60" fill="#7a4b1a"/>
<rect x="92.42" y="893.20" width="30.86" height="16.60" fill="#b98136"/>
<rect x="123.18" y="893.20" width="30.86" height="16.60" fill="#dcc588"/>
<rect x="153.94" y="893.20" width="30.86" height="16.60" fill="#f1ecd6"/>
<rect x="184.70" y="893.20" width="30.86" height="16.60" fill="#daf1ec"/>
<rect x="215.46" y="893.20" width="30.86" height="16.60" fill="#8fd8c5"/>
<rect x="246.22" y="893.20" width="30.86" height="16.60" fill="#4b9c8a"/>
<rect x="276.98" y="893.20" width="30.86" height="16.60" fill="#276050"/>
<path d="M49.40 901.50L61.70 893.20L307.80 893.20L320.10 901.50L307.80 909.80L61.70 909.80Z" fill="none" stroke="#222" stroke-width="0.9"/>
<text transform="translate(69.82 927.90) scale(1.1400 1)" font-size="12.86">−0.375</text>
<text transform="translate(131.34 927.90) scale(1.1400 1)" font-size="12.86">−0.125</text>
<text transform="translate(197.19 927.90) scale(1.1400 1)" font-size="12.86">0.125</text>
<text transform="translate(258.71 927.90) scale(1.1400 1)" font-size="12.86">0.375</text>
<path d="M92.47 909.80v4.6M153.99 909.80v4.6M215.51 909.80v4.6M277.03 909.80v4.6" stroke="#222" stroke-width="0.9" fill="none"/>
<text transform="translate(135.40 947.20) scale(1.1200 1)" font-size="16.20">g/kg/decade</text>
<path d="M406.80 901.50L419.36 893.20L419.36 909.80Z" fill="#563512"/>
<path d="M683.10 901.50L670.54 893.20L670.54 909.80Z" fill="#1b4434"/>
<rect x="419.31" y="893.20" width="31.50" height="16.60" fill="#7a4b1a"/>
<rect x="450.71" y="893.20" width="31.50" height="16.60" fill="#b98136"/>
<rect x="482.10" y="893.20" width="31.50" height="16.60" fill="#dcc588"/>
<rect x="513.50" y="893.20" width="31.50" height="16.60" fill="#f1ecd6"/>
<rect x="544.90" y="893.20" width="31.50" height="16.60" fill="#daf1ec"/>
<rect x="576.30" y="893.20" width="31.50" height="16.60" fill="#8fd8c5"/>
<rect x="607.70" y="893.20" width="31.50" height="16.60" fill="#4b9c8a"/>
<rect x="639.09" y="893.20" width="31.50" height="16.60" fill="#276050"/>
<path d="M406.80 901.50L419.36 893.20L670.54 893.20L683.10 901.50L670.54 909.80L419.36 909.80Z" fill="none" stroke="#222" stroke-width="0.9"/>
<text transform="translate(428.11 927.90) scale(1.1400 1)" font-size="12.86">−0.375</text>
<text transform="translate(490.90 927.90) scale(1.1400 1)" font-size="12.86">−0.125</text>
<text transform="translate(558.02 927.90) scale(1.1400 1)" font-size="12.86">0.125</text>
<text transform="translate(620.82 927.90) scale(1.1400 1)" font-size="12.86">0.375</text>
<path d="M450.76 909.80v4.6M513.55 909.80v4.6M576.35 909.80v4.6M639.14 909.80v4.6" stroke="#222" stroke-width="0.9" fill="none"/>
<text transform="translate(495.60 947.20) scale(1.1200 1)" font-size="16.20">g/kg/decade</text>
</svg></body></html>
